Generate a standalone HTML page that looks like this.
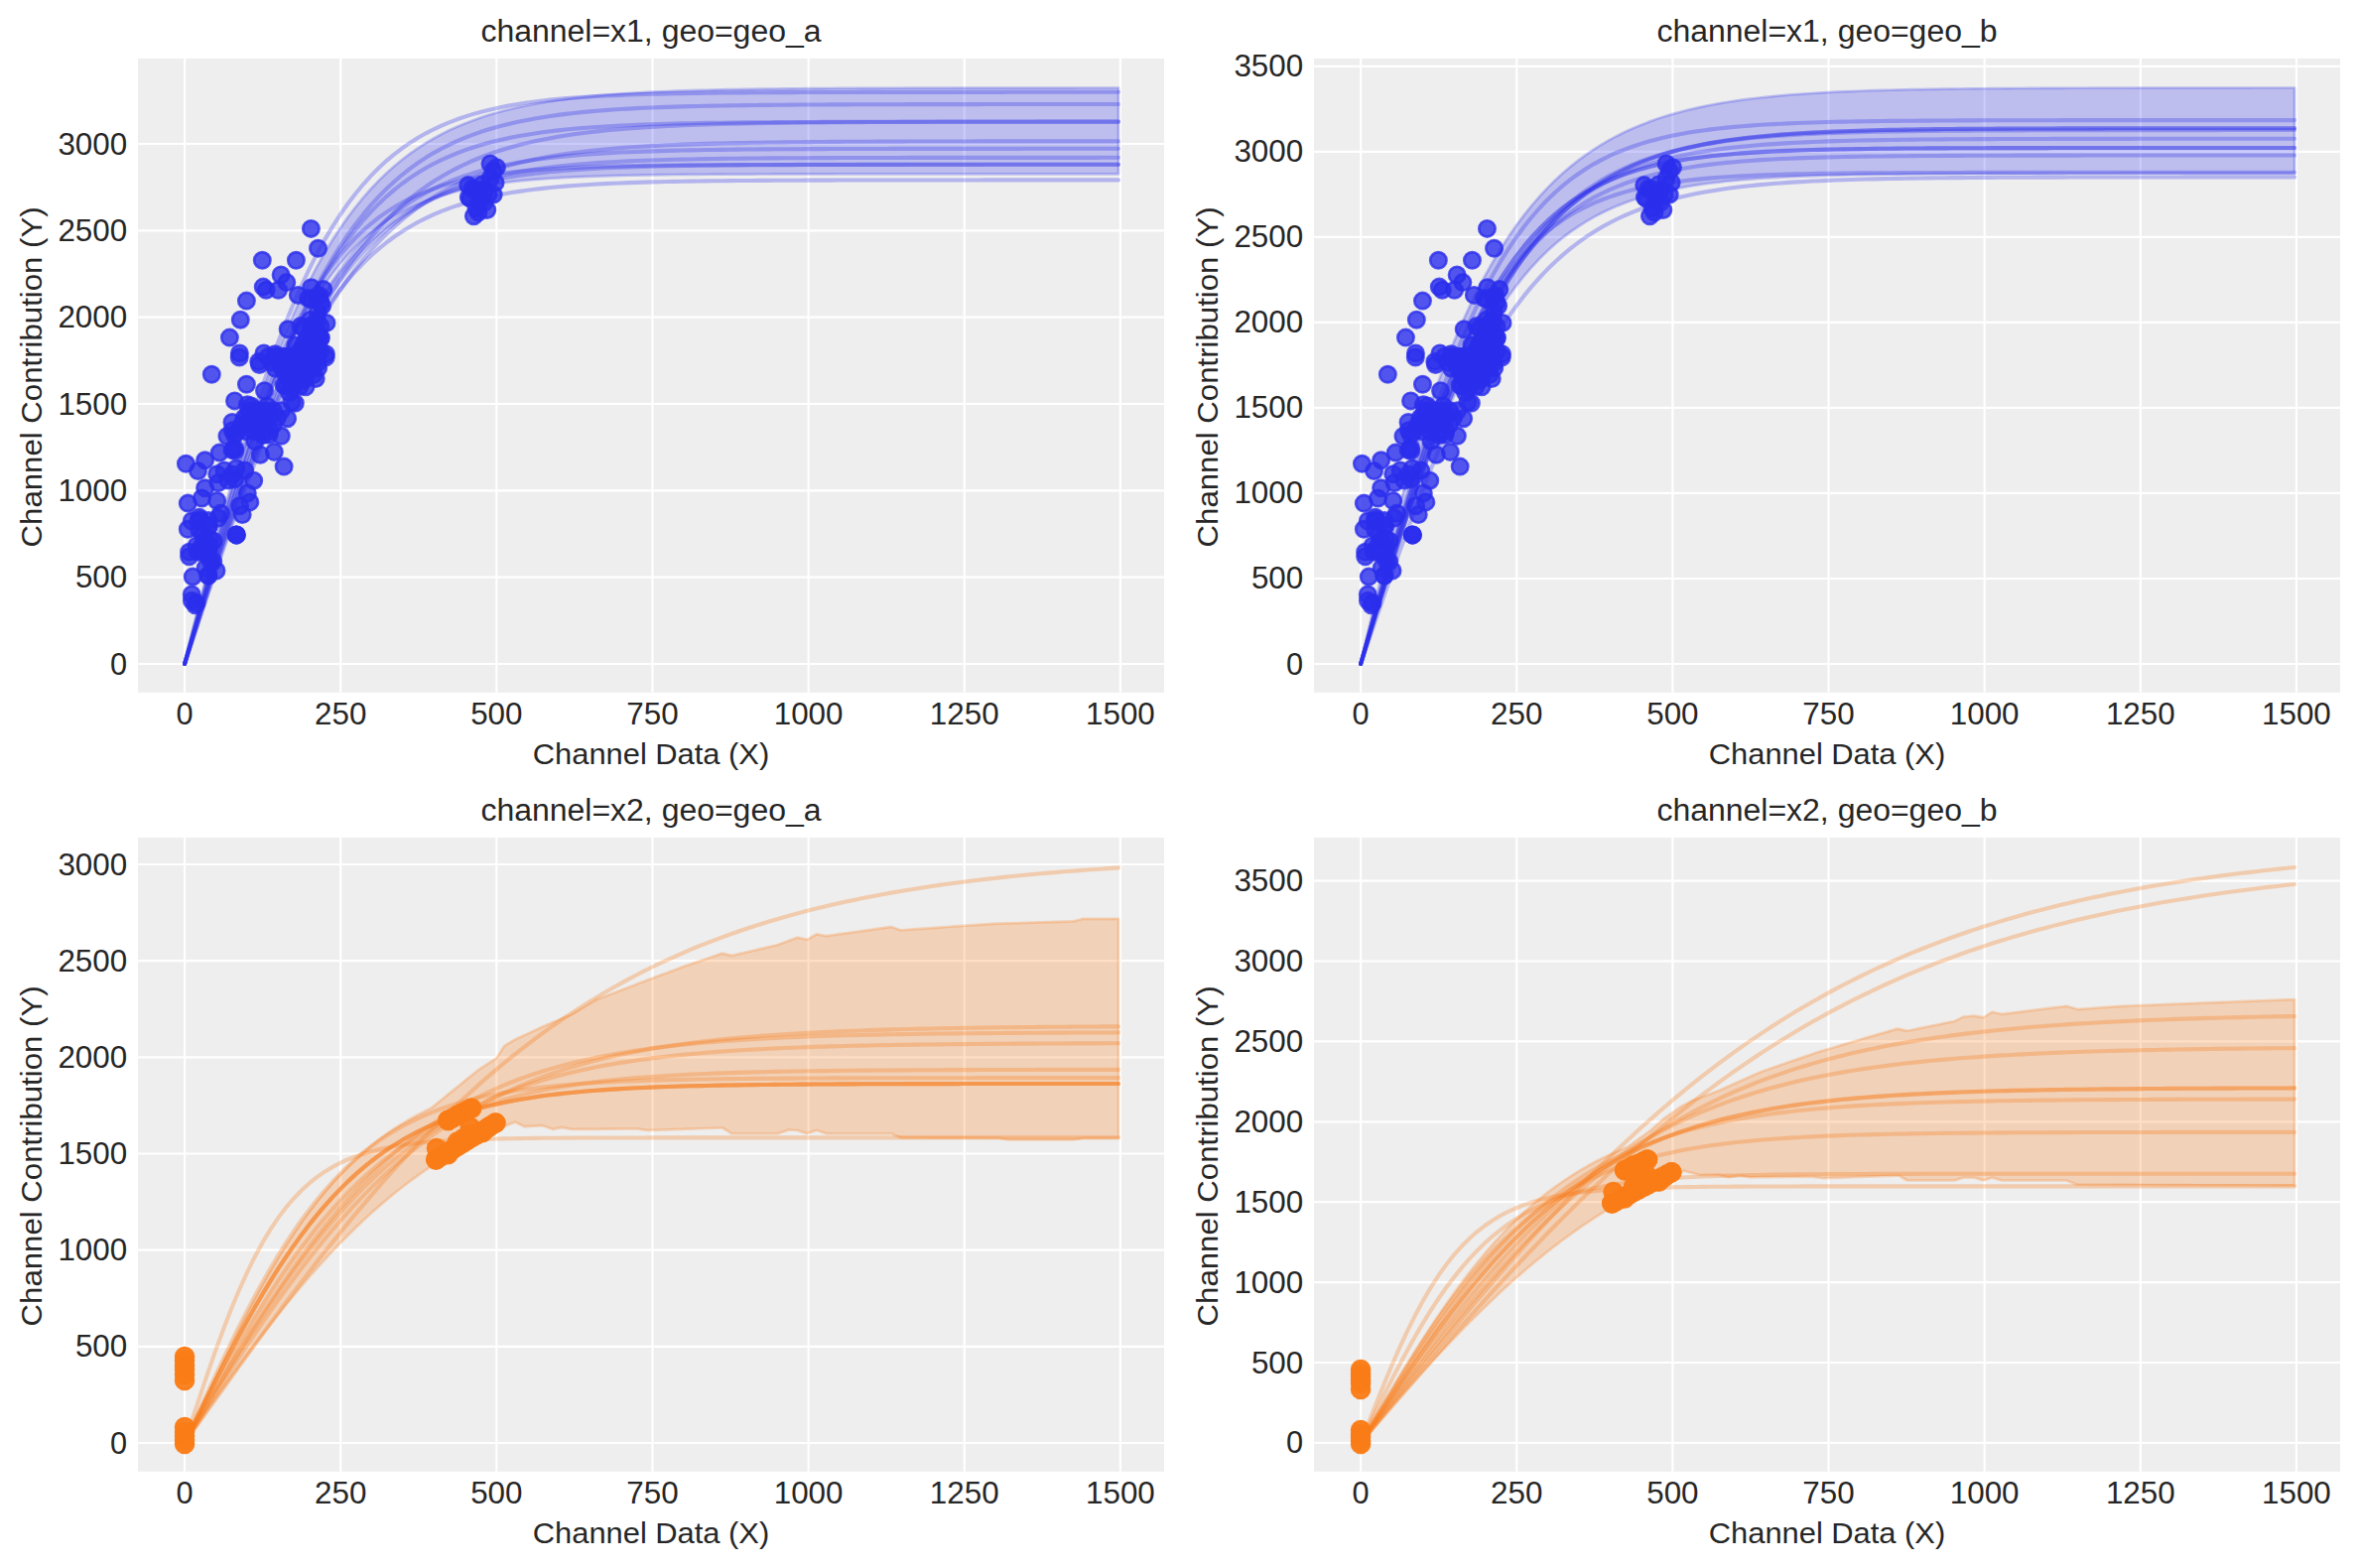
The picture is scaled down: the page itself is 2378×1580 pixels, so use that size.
<!DOCTYPE html><html><head><meta charset="utf-8"><style>html,body{margin:0;padding:0;background:#fff;}svg{display:block;}</style></head><body>
<svg width="2378" height="1580" viewBox="0 0 2378 1580" style="font-family:'Liberation Sans',sans-serif">
<rect width="2378" height="1580" fill="#ffffff"/>
<defs>
<clipPath id="c1"><rect x="139.0" y="59.0" width="1034.00" height="638.80"/></clipPath>
<clipPath id="c2"><rect x="1324.0" y="59.0" width="1034.00" height="638.80"/></clipPath>
<clipPath id="c3"><rect x="139.0" y="844.1" width="1034.00" height="638.70"/></clipPath>
<clipPath id="c4"><rect x="1324.0" y="844.1" width="1034.00" height="638.70"/></clipPath>
</defs>
<g id="ax1">
<rect x="139.0" y="59.0" width="1034.00" height="638.80" fill="#eeeeee"/>
<path d="M186.05 59.0V697.8M343.19 59.0V697.8M500.33 59.0V697.8M657.48 59.0V697.8M814.62 59.0V697.8M971.76 59.0V697.8M1128.90 59.0V697.8M139.0 669.00H1173.0M139.0 581.67H1173.0M139.0 494.33H1173.0M139.0 407.00H1173.0M139.0 319.67H1173.0M139.0 232.33H1173.0M139.0 145.00H1173.0" stroke="#ffffff" stroke-width="2.2" fill="none"/>
<g clip-path="url(#c1)">
<path d="M186.05,669.00 L193.89,638.07 L201.73,607.64 L209.57,577.87 L217.42,548.86 L225.26,520.74 L233.10,493.57 L240.94,467.44 L248.78,442.41 L256.62,418.51 L264.46,395.76 L272.31,374.18 L280.15,353.78 L287.99,334.53 L295.83,316.42 L303.67,299.42 L311.51,283.49 L319.35,268.61 L327.19,254.73 L335.04,241.79 L342.88,229.76 L350.72,218.60 L358.56,208.24 L366.40,198.64 L374.24,189.76 L382.08,181.56 L389.93,173.98 L397.77,166.99 L405.61,160.54 L413.45,154.60 L421.29,149.14 L429.13,144.10 L436.97,139.48 L444.82,135.22 L452.66,131.31 L460.50,127.72 L468.34,124.43 L476.18,121.40 L484.02,118.63 L491.86,116.08 L499.70,113.75 L507.55,111.61 L515.39,109.65 L523.23,107.85 L531.07,106.21 L538.91,104.70 L546.75,103.32 L554.59,102.05 L562.44,100.89 L570.28,99.83 L578.12,98.86 L585.96,97.98 L593.80,97.16 L601.64,96.42 L609.48,95.74 L617.33,95.12 L625.17,94.55 L633.01,94.03 L640.85,93.55 L648.69,93.12 L656.53,92.72 L664.37,92.35 L672.21,92.02 L680.06,91.72 L687.90,91.44 L695.74,91.18 L703.58,90.95 L711.42,90.74 L719.26,90.54 L727.10,90.37 L734.95,90.21 L742.79,90.06 L750.63,89.92 L758.47,89.80 L766.31,89.68 L774.15,89.58 L781.99,89.49 L789.84,89.40 L797.68,89.32 L805.52,89.25 L813.36,89.18 L821.20,89.12 L829.04,89.07 L836.88,89.02 L844.73,88.97 L852.57,88.93 L860.41,88.89 L868.25,88.86 L876.09,88.83 L883.93,88.80 L891.77,88.77 L899.61,88.75 L907.46,88.73 L915.30,88.71 L923.14,88.69 L930.98,88.67 L938.82,88.66 L946.66,88.64 L954.50,88.63 L962.35,88.62 L970.19,88.61 L978.03,88.60 L985.87,88.59 L993.71,88.58 L1001.55,88.57 L1009.39,88.57 L1017.24,88.56 L1025.08,88.55 L1032.92,88.55 L1040.76,88.54 L1048.60,88.54 L1056.44,88.54 L1064.28,88.53 L1072.12,88.53 L1079.97,88.53 L1087.81,88.52 L1095.65,88.52 L1103.49,88.52 L1111.33,88.52 L1119.17,88.51 L1127.01,88.51 L1127.01,175.31 L1119.17,175.31 L1111.33,175.31 L1103.49,175.31 L1095.65,175.31 L1087.81,175.31 L1079.97,175.31 L1072.12,175.31 L1064.28,175.31 L1056.44,175.31 L1048.60,175.31 L1040.76,175.31 L1032.92,175.31 L1025.08,175.31 L1017.24,175.31 L1009.39,175.31 L1001.55,175.31 L993.71,175.31 L985.87,175.31 L978.03,175.31 L970.19,175.31 L962.35,175.32 L954.50,175.32 L946.66,175.32 L938.82,175.32 L930.98,175.32 L923.14,175.33 L915.30,175.33 L907.46,175.33 L899.61,175.33 L891.77,175.34 L883.93,175.34 L876.09,175.35 L868.25,175.35 L860.41,175.36 L852.57,175.36 L844.73,175.37 L836.88,175.38 L829.04,175.39 L821.20,175.40 L813.36,175.41 L805.52,175.42 L797.68,175.43 L789.84,175.45 L781.99,175.47 L774.15,175.49 L766.31,175.51 L758.47,175.53 L750.63,175.56 L742.79,175.59 L734.95,175.62 L727.10,175.66 L719.26,175.71 L711.42,175.76 L703.58,175.81 L695.74,175.87 L687.90,175.94 L680.06,176.02 L672.21,176.11 L664.37,176.20 L656.53,176.31 L648.69,176.43 L640.85,176.57 L633.01,176.73 L625.17,176.90 L617.33,177.09 L609.48,177.31 L601.64,177.55 L593.80,177.83 L585.96,178.13 L578.12,178.47 L570.28,178.86 L562.44,179.29 L554.59,179.77 L546.75,180.31 L538.91,180.92 L531.07,181.59 L523.23,182.35 L515.39,183.20 L507.55,184.16 L499.70,185.22 L491.86,186.41 L484.02,187.75 L476.18,189.24 L468.34,190.91 L460.50,192.77 L452.66,194.85 L444.82,197.18 L436.97,199.77 L429.13,202.67 L421.29,205.89 L413.45,209.48 L405.61,213.48 L397.77,217.92 L389.93,222.85 L382.08,228.32 L374.24,234.38 L366.40,241.09 L358.56,248.50 L350.72,256.67 L342.88,265.66 L335.04,275.53 L327.19,286.35 L319.35,298.17 L311.51,311.06 L303.67,325.06 L295.83,340.23 L287.99,356.61 L280.15,374.22 L272.31,393.07 L264.46,413.18 L256.62,434.51 L248.78,457.04 L240.94,480.71 L233.10,505.43 L225.26,531.11 L217.42,557.63 L209.57,584.84 L201.73,612.59 L193.89,640.70 L186.05,669.00Z" fill="#2a2eec" fill-opacity="0.25" stroke="#2a2eec" stroke-opacity="0.25" stroke-width="2.7" stroke-linejoin="round"/>
<polyline points="186.05,669.00 193.89,638.48 201.73,608.13 209.57,578.12 217.42,548.60 225.26,519.74 233.10,491.65 240.94,464.46 248.78,438.28 256.62,413.19 264.46,389.25 272.31,366.50 280.15,344.99 287.99,324.73 295.83,305.71 303.67,287.91 311.51,271.32 319.35,255.91 327.19,241.62 335.04,228.41 342.88,216.23 350.72,205.02 358.56,194.73 366.40,185.30 374.24,176.67 382.08,168.79 389.93,161.60 397.77,155.05 405.61,149.10 413.45,143.68 421.29,138.77 429.13,134.31 436.97,130.27 444.82,126.61 452.66,123.30 460.50,120.31 468.34,117.60 476.18,115.15 484.02,112.95 491.86,110.95 499.70,109.15 507.55,107.53 515.39,106.07 523.23,104.75 531.07,103.56 538.91,102.48 546.75,101.52 554.59,100.65 562.44,99.86 570.28,99.16 578.12,98.52 585.96,97.95 593.80,97.44 601.64,96.97 609.48,96.55 617.33,96.18 625.17,95.84 633.01,95.54 640.85,95.26 648.69,95.02 656.53,94.79 664.37,94.60 672.21,94.42 680.06,94.25 687.90,94.11 695.74,93.98 703.58,93.86 711.42,93.76 719.26,93.66 727.10,93.57 734.95,93.50 742.79,93.43 750.63,93.37 758.47,93.31 766.31,93.26 774.15,93.21 781.99,93.17 789.84,93.14 797.68,93.10 805.52,93.07 813.36,93.05 821.20,93.02 829.04,93.00 836.88,92.98 844.73,92.97 852.57,92.95 860.41,92.94 868.25,92.92 876.09,92.91 883.93,92.90 891.77,92.89 899.61,92.88 907.46,92.88 915.30,92.87 923.14,92.86 930.98,92.86 938.82,92.85 946.66,92.85 954.50,92.84 962.35,92.84 970.19,92.84 978.03,92.84 985.87,92.83 993.71,92.83 1001.55,92.83 1009.39,92.83 1017.24,92.82 1025.08,92.82 1032.92,92.82 1040.76,92.82 1048.60,92.82 1056.44,92.82 1064.28,92.82 1072.12,92.82 1079.97,92.82 1087.81,92.82 1095.65,92.81 1103.49,92.81 1111.33,92.81 1119.17,92.81 1127.01,92.81" fill="none" stroke="#2a2eec" stroke-opacity="0.3" stroke-width="4.1" stroke-linecap="round" stroke-linejoin="round"/>
<polyline points="186.05,669.00 193.89,641.79 201.73,614.71 209.57,587.88 217.42,561.42 225.26,535.44 233.10,510.05 240.94,485.34 248.78,461.40 256.62,438.29 264.46,416.07 272.31,394.80 280.15,374.50 287.99,355.20 295.83,336.90 303.67,319.62 311.51,303.34 319.35,288.05 327.19,273.72 335.04,260.33 342.88,247.85 350.72,236.23 358.56,225.44 366.40,215.44 374.24,206.19 382.08,197.64 389.93,189.76 397.77,182.50 405.61,175.81 413.45,169.67 421.29,164.03 429.13,158.86 436.97,154.12 444.82,149.78 452.66,145.81 460.50,142.18 468.34,138.86 476.18,135.83 484.02,133.06 491.86,130.54 499.70,128.24 507.55,126.14 515.39,124.23 523.23,122.49 531.07,120.91 538.91,119.46 546.75,118.15 554.59,116.95 562.44,115.86 570.28,114.88 578.12,113.98 585.96,113.16 593.80,112.41 601.64,111.74 609.48,111.12 617.33,110.56 625.17,110.05 633.01,109.59 640.85,109.17 648.69,108.79 656.53,108.45 664.37,108.13 672.21,107.85 680.06,107.59 687.90,107.35 695.74,107.14 703.58,106.94 711.42,106.76 719.26,106.60 727.10,106.46 734.95,106.33 742.79,106.21 750.63,106.10 758.47,106.00 766.31,105.91 774.15,105.83 781.99,105.75 789.84,105.68 797.68,105.62 805.52,105.57 813.36,105.52 821.20,105.47 829.04,105.43 836.88,105.39 844.73,105.36 852.57,105.33 860.41,105.30 868.25,105.27 876.09,105.25 883.93,105.23 891.77,105.21 899.61,105.19 907.46,105.18 915.30,105.16 923.14,105.15 930.98,105.14 938.82,105.13 946.66,105.12 954.50,105.11 962.35,105.10 970.19,105.09 978.03,105.08 985.87,105.08 993.71,105.07 1001.55,105.07 1009.39,105.06 1017.24,105.06 1025.08,105.06 1032.92,105.05 1040.76,105.05 1048.60,105.05 1056.44,105.04 1064.28,105.04 1072.12,105.04 1079.97,105.04 1087.81,105.04 1095.65,105.03 1103.49,105.03 1111.33,105.03 1119.17,105.03 1127.01,105.03" fill="none" stroke="#2a2eec" stroke-opacity="0.3" stroke-width="4.1" stroke-linecap="round" stroke-linejoin="round"/>
<polyline points="186.05,669.00 193.89,641.62 201.73,614.38 209.57,587.41 217.42,560.84 225.26,534.79 233.10,509.38 240.94,484.70 248.78,460.84 256.62,437.87 264.46,415.86 272.31,394.85 280.15,374.86 287.99,355.93 295.83,338.05 303.67,321.23 311.51,305.45 319.35,290.68 327.19,276.91 335.04,264.09 342.88,252.19 350.72,241.16 358.56,230.97 366.40,221.56 374.24,212.90 382.08,204.93 389.93,197.62 397.77,190.91 405.61,184.76 413.45,179.13 421.29,173.99 429.13,169.30 436.97,165.02 444.82,161.11 452.66,157.55 460.50,154.32 468.34,151.37 476.18,148.69 484.02,146.25 491.86,144.04 499.70,142.03 507.55,140.21 515.39,138.55 523.23,137.05 531.07,135.69 538.91,134.46 546.75,133.34 554.59,132.32 562.44,131.40 570.28,130.57 578.12,129.81 585.96,129.13 593.80,128.51 601.64,127.95 609.48,127.44 617.33,126.98 625.17,126.57 633.01,126.19 640.85,125.85 648.69,125.54 656.53,125.26 664.37,125.01 672.21,124.78 680.06,124.57 687.90,124.39 695.74,124.22 703.58,124.06 711.42,123.92 719.26,123.80 727.10,123.69 734.95,123.58 742.79,123.49 750.63,123.41 758.47,123.33 766.31,123.26 774.15,123.20 781.99,123.14 789.84,123.09 797.68,123.04 805.52,123.00 813.36,122.97 821.20,122.93 829.04,122.90 836.88,122.87 844.73,122.85 852.57,122.82 860.41,122.80 868.25,122.79 876.09,122.77 883.93,122.75 891.77,122.74 899.61,122.73 907.46,122.72 915.30,122.70 923.14,122.70 930.98,122.69 938.82,122.68 946.66,122.67 954.50,122.67 962.35,122.66 970.19,122.66 978.03,122.65 985.87,122.65 993.71,122.64 1001.55,122.64 1009.39,122.64 1017.24,122.63 1025.08,122.63 1032.92,122.63 1040.76,122.63 1048.60,122.63 1056.44,122.62 1064.28,122.62 1072.12,122.62 1079.97,122.62 1087.81,122.62 1095.65,122.62 1103.49,122.62 1111.33,122.62 1119.17,122.61 1127.01,122.61" fill="none" stroke="#2a2eec" stroke-opacity="0.3" stroke-width="4.1" stroke-linecap="round" stroke-linejoin="round"/>
<polyline points="186.05,669.00 193.89,644.75 201.73,620.60 209.57,596.63 217.42,572.94 225.26,549.63 233.10,526.76 240.94,504.41 248.78,482.65 256.62,461.54 264.46,441.13 272.31,421.46 280.15,402.57 287.99,384.48 295.83,367.20 303.67,350.75 311.51,335.13 319.35,320.34 327.19,306.36 335.04,293.18 342.88,280.78 350.72,269.14 358.56,258.23 366.40,248.03 374.24,238.50 382.08,229.61 389.93,221.34 397.77,213.65 405.61,206.50 413.45,199.88 421.29,193.74 429.13,188.05 436.97,182.80 444.82,177.94 452.66,173.46 460.50,169.32 468.34,165.51 476.18,161.99 484.02,158.76 491.86,155.78 499.70,153.04 507.55,150.52 515.39,148.20 523.23,146.07 531.07,144.12 538.91,142.32 546.75,140.67 554.59,139.16 562.44,137.77 570.28,136.50 578.12,135.33 585.96,134.26 593.80,133.28 601.64,132.38 609.48,131.56 617.33,130.80 625.17,130.11 633.01,129.48 640.85,128.90 648.69,128.37 656.53,127.88 664.37,127.43 672.21,127.02 680.06,126.65 687.90,126.31 695.74,125.99 703.58,125.71 711.42,125.44 719.26,125.20 727.10,124.98 734.95,124.78 742.79,124.60 750.63,124.43 758.47,124.27 766.31,124.13 774.15,124.00 781.99,123.89 789.84,123.78 797.68,123.68 805.52,123.59 813.36,123.50 821.20,123.43 829.04,123.36 836.88,123.29 844.73,123.24 852.57,123.18 860.41,123.13 868.25,123.09 876.09,123.05 883.93,123.01 891.77,122.98 899.61,122.95 907.46,122.92 915.30,122.89 923.14,122.87 930.98,122.84 938.82,122.82 946.66,122.81 954.50,122.79 962.35,122.77 970.19,122.76 978.03,122.75 985.87,122.73 993.71,122.72 1001.55,122.71 1009.39,122.71 1017.24,122.70 1025.08,122.69 1032.92,122.68 1040.76,122.68 1048.60,122.67 1056.44,122.66 1064.28,122.66 1072.12,122.66 1079.97,122.65 1087.81,122.65 1095.65,122.64 1103.49,122.64 1111.33,122.64 1119.17,122.64 1127.01,122.63" fill="none" stroke="#2a2eec" stroke-opacity="0.3" stroke-width="4.1" stroke-linecap="round" stroke-linejoin="round"/>
<polyline points="186.05,669.00 193.89,645.36 201.73,621.82 209.57,598.47 217.42,575.39 225.26,552.68 233.10,530.42 240.94,508.67 248.78,487.51 256.62,467.00 264.46,447.18 272.31,428.10 280.15,409.78 287.99,392.25 295.83,375.54 303.67,359.64 311.51,344.55 319.35,330.28 327.19,316.80 335.04,304.12 342.88,292.20 350.72,281.02 358.56,270.55 366.40,260.77 374.24,251.65 382.08,243.16 389.93,235.26 397.77,227.92 405.61,221.12 413.45,214.82 421.29,208.98 429.13,203.59 436.97,198.60 444.82,194.01 452.66,189.77 460.50,185.86 468.34,182.26 476.18,178.95 484.02,175.90 491.86,173.10 499.70,170.52 507.55,168.16 515.39,165.99 523.23,164.00 531.07,162.17 538.91,160.49 546.75,158.96 554.59,157.55 562.44,156.25 570.28,155.07 578.12,153.99 585.96,152.99 593.80,152.08 601.64,151.25 609.48,150.49 617.33,149.79 625.17,149.15 633.01,148.57 640.85,148.03 648.69,147.55 656.53,147.10 664.37,146.69 672.21,146.31 680.06,145.97 687.90,145.66 695.74,145.37 703.58,145.11 711.42,144.87 719.26,144.65 727.10,144.45 734.95,144.27 742.79,144.10 750.63,143.94 758.47,143.80 766.31,143.68 774.15,143.56 781.99,143.45 789.84,143.35 797.68,143.26 805.52,143.18 813.36,143.11 821.20,143.04 829.04,142.98 836.88,142.92 844.73,142.87 852.57,142.82 860.41,142.78 868.25,142.74 876.09,142.70 883.93,142.67 891.77,142.63 899.61,142.61 907.46,142.58 915.30,142.56 923.14,142.54 930.98,142.52 938.82,142.50 946.66,142.48 954.50,142.47 962.35,142.45 970.19,142.44 978.03,142.43 985.87,142.42 993.71,142.41 1001.55,142.40 1009.39,142.39 1017.24,142.39 1025.08,142.38 1032.92,142.37 1040.76,142.37 1048.60,142.36 1056.44,142.36 1064.28,142.36 1072.12,142.35 1079.97,142.35 1087.81,142.34 1095.65,142.34 1103.49,142.34 1111.33,142.34 1119.17,142.33 1127.01,142.33" fill="none" stroke="#2a2eec" stroke-opacity="0.3" stroke-width="4.1" stroke-linecap="round" stroke-linejoin="round"/>
<polyline points="186.05,669.00 193.89,642.98 201.73,617.10 209.57,591.47 217.42,566.23 225.26,541.47 233.10,517.33 240.94,493.87 248.78,471.20 256.62,449.38 264.46,428.46 272.31,408.49 280.15,389.50 287.99,371.51 295.83,354.53 303.67,338.54 311.51,323.54 319.35,309.51 327.19,296.42 335.04,284.24 342.88,272.93 350.72,262.46 358.56,252.77 366.40,243.84 374.24,235.60 382.08,228.03 389.93,221.08 397.77,214.70 405.61,208.86 413.45,203.52 421.29,198.63 429.13,194.17 436.97,190.10 444.82,186.39 452.66,183.01 460.50,179.93 468.34,177.13 476.18,174.59 484.02,172.27 491.86,170.17 499.70,168.26 507.55,166.53 515.39,164.96 523.23,163.53 531.07,162.23 538.91,161.06 546.75,160.00 554.59,159.03 562.44,158.16 570.28,157.37 578.12,156.65 585.96,156.00 593.80,155.41 601.64,154.88 609.48,154.40 617.33,153.96 625.17,153.57 633.01,153.21 640.85,152.88 648.69,152.59 656.53,152.33 664.37,152.09 672.21,151.87 680.06,151.67 687.90,151.49 695.74,151.33 703.58,151.19 711.42,151.05 719.26,150.94 727.10,150.83 734.95,150.73 742.79,150.64 750.63,150.56 758.47,150.49 766.31,150.42 774.15,150.36 781.99,150.31 789.84,150.26 797.68,150.22 805.52,150.18 813.36,150.14 821.20,150.11 829.04,150.08 836.88,150.06 844.73,150.03 852.57,150.01 860.41,149.99 868.25,149.97 876.09,149.96 883.93,149.94 891.77,149.93 899.61,149.92 907.46,149.91 915.30,149.90 923.14,149.89 930.98,149.88 938.82,149.87 946.66,149.87 954.50,149.86 962.35,149.85 970.19,149.85 978.03,149.84 985.87,149.84 993.71,149.84 1001.55,149.83 1009.39,149.83 1017.24,149.83 1025.08,149.83 1032.92,149.82 1040.76,149.82 1048.60,149.82 1056.44,149.82 1064.28,149.82 1072.12,149.82 1079.97,149.81 1087.81,149.81 1095.65,149.81 1103.49,149.81 1111.33,149.81 1119.17,149.81 1127.01,149.81" fill="none" stroke="#2a2eec" stroke-opacity="0.3" stroke-width="4.1" stroke-linecap="round" stroke-linejoin="round"/>
<polyline points="186.05,669.00 193.89,643.75 201.73,618.63 209.57,593.75 217.42,569.23 225.26,545.18 233.10,521.71 240.94,498.89 248.78,476.81 256.62,455.55 264.46,435.14 272.31,415.64 280.15,397.08 287.99,379.47 295.83,362.82 303.67,347.13 311.51,332.39 319.35,318.59 327.19,305.69 335.04,293.67 342.88,282.49 350.72,272.13 358.56,262.53 366.40,253.66 374.24,245.47 382.08,237.93 389.93,231.00 397.77,224.63 405.61,218.79 413.45,213.44 421.29,208.54 429.13,204.06 436.97,199.96 444.82,196.22 452.66,192.81 460.50,189.70 468.34,186.87 476.18,184.29 484.02,181.94 491.86,179.81 499.70,177.87 507.55,176.10 515.39,174.49 523.23,173.04 531.07,171.71 538.91,170.51 546.75,169.42 554.59,168.43 562.44,167.53 570.28,166.71 578.12,165.97 585.96,165.30 593.80,164.70 601.64,164.14 609.48,163.64 617.33,163.19 625.17,162.78 633.01,162.41 640.85,162.07 648.69,161.76 656.53,161.49 664.37,161.24 672.21,161.01 680.06,160.80 687.90,160.61 695.74,160.45 703.58,160.29 711.42,160.15 719.26,160.03 727.10,159.91 734.95,159.81 742.79,159.72 750.63,159.63 758.47,159.55 766.31,159.48 774.15,159.42 781.99,159.36 789.84,159.31 797.68,159.27 805.52,159.22 813.36,159.19 821.20,159.15 829.04,159.12 836.88,159.09 844.73,159.06 852.57,159.04 860.41,159.02 868.25,159.00 876.09,158.98 883.93,158.97 891.77,158.95 899.61,158.94 907.46,158.93 915.30,158.92 923.14,158.91 930.98,158.90 938.82,158.89 946.66,158.88 954.50,158.88 962.35,158.87 970.19,158.87 978.03,158.86 985.87,158.86 993.71,158.85 1001.55,158.85 1009.39,158.85 1017.24,158.84 1025.08,158.84 1032.92,158.84 1040.76,158.84 1048.60,158.84 1056.44,158.83 1064.28,158.83 1072.12,158.83 1079.97,158.83 1087.81,158.83 1095.65,158.83 1103.49,158.83 1111.33,158.82 1119.17,158.82 1127.01,158.82" fill="none" stroke="#2a2eec" stroke-opacity="0.3" stroke-width="4.1" stroke-linecap="round" stroke-linejoin="round"/>
<polyline points="186.05,669.00 193.89,639.97 201.73,611.13 209.57,582.67 217.42,554.77 225.26,527.59 233.10,501.28 240.94,475.96 248.78,451.73 256.62,428.69 264.46,406.88 272.31,386.34 280.15,367.09 287.99,349.13 295.83,332.44 303.67,317.00 311.51,302.75 319.35,289.64 327.19,277.64 335.04,266.66 342.88,256.65 350.72,247.54 358.56,239.28 366.40,231.79 374.24,225.01 382.08,218.89 389.93,213.37 397.77,208.40 405.61,203.93 413.45,199.91 421.29,196.30 429.13,193.07 436.97,190.16 444.82,187.56 452.66,185.24 460.50,183.15 468.34,181.29 476.18,179.62 484.02,178.13 491.86,176.80 499.70,175.61 507.55,174.55 515.39,173.61 523.23,172.76 531.07,172.01 538.91,171.33 546.75,170.73 554.59,170.20 562.44,169.72 570.28,169.29 578.12,168.91 585.96,168.58 593.80,168.27 601.64,168.01 609.48,167.77 617.33,167.55 625.17,167.36 633.01,167.19 640.85,167.04 648.69,166.91 656.53,166.79 664.37,166.68 672.21,166.58 680.06,166.50 687.90,166.42 695.74,166.35 703.58,166.29 711.42,166.24 719.26,166.19 727.10,166.15 734.95,166.11 742.79,166.08 750.63,166.05 758.47,166.02 766.31,166.00 774.15,165.98 781.99,165.96 789.84,165.94 797.68,165.93 805.52,165.91 813.36,165.90 821.20,165.89 829.04,165.88 836.88,165.87 844.73,165.86 852.57,165.86 860.41,165.85 868.25,165.85 876.09,165.84 883.93,165.84 891.77,165.83 899.61,165.83 907.46,165.83 915.30,165.82 923.14,165.82 930.98,165.82 938.82,165.82 946.66,165.82 954.50,165.81 962.35,165.81 970.19,165.81 978.03,165.81 985.87,165.81 993.71,165.81 1001.55,165.81 1009.39,165.81 1017.24,165.81 1025.08,165.81 1032.92,165.81 1040.76,165.81 1048.60,165.81 1056.44,165.81 1064.28,165.81 1072.12,165.80 1079.97,165.80 1087.81,165.80 1095.65,165.80 1103.49,165.80 1111.33,165.80 1119.17,165.80 1127.01,165.80" fill="none" stroke="#2a2eec" stroke-opacity="0.3" stroke-width="4.1" stroke-linecap="round" stroke-linejoin="round"/>
<polyline points="186.05,669.00 193.89,642.66 201.73,616.46 209.57,590.55 217.42,565.06 225.26,540.11 233.10,515.82 240.94,492.30 248.78,469.62 256.62,447.87 264.46,427.09 272.31,407.34 280.15,388.63 287.99,370.98 295.83,354.39 303.67,338.86 311.51,324.35 319.35,310.85 327.19,298.32 335.04,286.72 342.88,276.01 350.72,266.14 358.56,257.06 366.40,248.73 374.24,241.10 382.08,234.11 389.93,227.74 397.77,221.92 405.61,216.62 413.45,211.79 421.29,207.41 429.13,203.42 436.97,199.81 444.82,196.53 452.66,193.55 460.50,190.86 468.34,188.43 476.18,186.22 484.02,184.23 491.86,182.42 499.70,180.79 507.55,179.32 515.39,177.99 523.23,176.79 531.07,175.71 538.91,174.74 546.75,173.85 554.59,173.06 562.44,172.34 570.28,171.69 578.12,171.11 585.96,170.59 593.80,170.11 601.64,169.68 609.48,169.30 617.33,168.95 625.17,168.64 633.01,168.36 640.85,168.11 648.69,167.88 656.53,167.67 664.37,167.49 672.21,167.32 680.06,167.17 687.90,167.03 695.74,166.91 703.58,166.80 711.42,166.70 719.26,166.61 727.10,166.53 734.95,166.46 742.79,166.39 750.63,166.33 758.47,166.28 766.31,166.23 774.15,166.19 781.99,166.15 789.84,166.12 797.68,166.09 805.52,166.06 813.36,166.03 821.20,166.01 829.04,165.99 836.88,165.97 844.73,165.95 852.57,165.94 860.41,165.93 868.25,165.91 876.09,165.90 883.93,165.89 891.77,165.88 899.61,165.88 907.46,165.87 915.30,165.86 923.14,165.86 930.98,165.85 938.82,165.85 946.66,165.84 954.50,165.84 962.35,165.83 970.19,165.83 978.03,165.83 985.87,165.83 993.71,165.82 1001.55,165.82 1009.39,165.82 1017.24,165.82 1025.08,165.82 1032.92,165.82 1040.76,165.81 1048.60,165.81 1056.44,165.81 1064.28,165.81 1072.12,165.81 1079.97,165.81 1087.81,165.81 1095.65,165.81 1103.49,165.81 1111.33,165.81 1119.17,165.81 1127.01,165.81" fill="none" stroke="#2a2eec" stroke-opacity="0.3" stroke-width="4.1" stroke-linecap="round" stroke-linejoin="round"/>
<polyline points="186.05,669.00 193.89,643.90 201.73,618.93 209.57,594.23 217.42,569.91 225.26,546.10 233.10,522.89 240.94,500.39 248.78,478.68 256.62,457.82 264.46,437.88 272.31,418.88 280.15,400.86 287.99,383.83 295.83,367.80 303.67,352.76 311.51,338.69 319.35,325.56 327.19,313.36 335.04,302.04 342.88,291.56 350.72,281.88 358.56,272.97 366.40,264.77 374.24,257.24 382.08,250.34 389.93,244.02 397.77,238.25 405.61,232.98 413.45,228.17 421.29,223.79 429.13,219.80 436.97,216.18 444.82,212.88 452.66,209.89 460.50,207.17 468.34,204.71 476.18,202.48 484.02,200.45 491.86,198.62 499.70,196.96 507.55,195.46 515.39,194.10 523.23,192.87 531.07,191.76 538.91,190.76 546.75,189.85 554.59,189.03 562.44,188.29 570.28,187.62 578.12,187.01 585.96,186.46 593.80,185.97 601.64,185.53 609.48,185.12 617.33,184.76 625.17,184.43 633.01,184.14 640.85,183.87 648.69,183.63 656.53,183.41 664.37,183.21 672.21,183.04 680.06,182.88 687.90,182.73 695.74,182.60 703.58,182.48 711.42,182.38 719.26,182.28 727.10,182.20 734.95,182.12 742.79,182.05 750.63,181.98 758.47,181.93 766.31,181.88 774.15,181.83 781.99,181.79 789.84,181.75 797.68,181.72 805.52,181.68 813.36,181.66 821.20,181.63 829.04,181.61 836.88,181.59 844.73,181.57 852.57,181.55 860.41,181.54 868.25,181.53 876.09,181.51 883.93,181.50 891.77,181.49 899.61,181.48 907.46,181.47 915.30,181.47 923.14,181.46 930.98,181.46 938.82,181.45 946.66,181.45 954.50,181.44 962.35,181.44 970.19,181.43 978.03,181.43 985.87,181.43 993.71,181.42 1001.55,181.42 1009.39,181.42 1017.24,181.42 1025.08,181.42 1032.92,181.41 1040.76,181.41 1048.60,181.41 1056.44,181.41 1064.28,181.41 1072.12,181.41 1079.97,181.41 1087.81,181.41 1095.65,181.41 1103.49,181.41 1111.33,181.41 1119.17,181.41 1127.01,181.40" fill="none" stroke="#2a2eec" stroke-opacity="0.3" stroke-width="4.1" stroke-linecap="round" stroke-linejoin="round"/>
<g fill="#2a2eec" fill-opacity="0.8" stroke="#2a2eec" stroke-opacity="0.8" stroke-width="2.6"><circle cx="313.40" cy="230.40" r="8.2"/><circle cx="320.50" cy="250.30" r="8.2"/><circle cx="264.30" cy="262.30" r="8.2"/><circle cx="298.40" cy="262.30" r="8.2"/><circle cx="283.10" cy="277.00" r="8.2"/><circle cx="288.80" cy="284.60" r="8.2"/><circle cx="265.20" cy="289.10" r="8.2"/><circle cx="268.20" cy="292.30" r="8.2"/><circle cx="280.50" cy="292.30" r="8.2"/><circle cx="248.40" cy="303.10" r="8.2"/><circle cx="300.30" cy="297.40" r="8.2"/><circle cx="313.70" cy="289.70" r="8.2"/><circle cx="325.80" cy="291.60" r="8.2"/><circle cx="310.50" cy="300.60" r="8.2"/><circle cx="322.00" cy="298.00" r="8.2"/><circle cx="324.50" cy="308.20" r="8.2"/><circle cx="242.30" cy="322.20" r="8.2"/><circle cx="329.00" cy="325.40" r="8.2"/><circle cx="231.40" cy="340.10" r="8.2"/><circle cx="290.10" cy="331.80" r="8.2"/><circle cx="313.10" cy="322.20" r="8.2"/><circle cx="302.90" cy="328.60" r="8.2"/><circle cx="323.30" cy="340.10" r="8.2"/><circle cx="241.40" cy="356.00" r="8.2"/><circle cx="328.40" cy="356.70" r="8.2"/><circle cx="265.90" cy="356.00" r="8.2"/><circle cx="277.30" cy="356.70" r="8.2"/><circle cx="261.40" cy="367.50" r="8.2"/><circle cx="320.70" cy="370.70" r="8.2"/><circle cx="318.20" cy="381.60" r="8.2"/><circle cx="213.30" cy="377.30" r="8.2"/><circle cx="248.40" cy="387.30" r="8.2"/><circle cx="266.50" cy="393.70" r="8.2"/><circle cx="236.50" cy="403.90" r="8.2"/><circle cx="294.00" cy="405.20" r="8.2"/><circle cx="308.00" cy="389.80" r="8.2"/><circle cx="313.80" cy="301.90" r="8.2"/><circle cx="320.20" cy="314.60" r="8.2"/><circle cx="313.80" cy="327.40" r="8.2"/><circle cx="305.50" cy="330.60" r="8.2"/><circle cx="320.20" cy="340.20" r="8.2"/><circle cx="297.80" cy="347.80" r="8.2"/><circle cx="313.80" cy="349.70" r="8.2"/><circle cx="288.30" cy="359.30" r="8.2"/><circle cx="304.20" cy="359.30" r="8.2"/><circle cx="320.20" cy="365.70" r="8.2"/><circle cx="260.80" cy="364.40" r="8.2"/><circle cx="241.20" cy="360.00" r="8.2"/><circle cx="328.20" cy="360.00" r="8.2"/><circle cx="286.10" cy="388.10" r="8.2"/><circle cx="253.10" cy="409.10" r="8.2"/><circle cx="269.30" cy="409.10" r="8.2"/><circle cx="297.30" cy="406.30" r="8.2"/><circle cx="289.60" cy="421.70" r="8.2"/><circle cx="246.10" cy="421.00" r="8.2"/><circle cx="234.20" cy="433.70" r="8.2"/><circle cx="283.30" cy="439.30" r="8.2"/><circle cx="265.10" cy="438.60" r="8.2"/><circle cx="276.30" cy="455.40" r="8.2"/><circle cx="262.30" cy="458.20" r="8.2"/><circle cx="286.10" cy="470.10" r="8.2"/><circle cx="236.30" cy="451.20" r="8.2"/><circle cx="249.30" cy="407.70" r="8.2"/><circle cx="249.30" cy="417.90" r="8.2"/><circle cx="234.00" cy="425.50" r="8.2"/><circle cx="228.90" cy="439.50" r="8.2"/><circle cx="236.50" cy="438.30" r="8.2"/><circle cx="271.00" cy="438.30" r="8.2"/><circle cx="256.90" cy="444.60" r="8.2"/><circle cx="221.20" cy="456.10" r="8.2"/><circle cx="234.00" cy="453.60" r="8.2"/><circle cx="187.40" cy="467.30" r="8.2"/><circle cx="206.60" cy="463.80" r="8.2"/><circle cx="199.50" cy="474.60" r="8.2"/><circle cx="218.70" cy="477.80" r="8.2"/><circle cx="236.50" cy="482.90" r="8.2"/><circle cx="246.70" cy="474.00" r="8.2"/><circle cx="255.70" cy="484.20" r="8.2"/><circle cx="206.60" cy="491.80" r="8.2"/><circle cx="203.40" cy="502.00" r="8.2"/><circle cx="189.30" cy="507.10" r="8.2"/><circle cx="218.70" cy="504.60" r="8.2"/><circle cx="249.30" cy="496.90" r="8.2"/><circle cx="251.80" cy="505.90" r="8.2"/><circle cx="241.60" cy="509.70" r="8.2"/><circle cx="222.50" cy="517.30" r="8.2"/><circle cx="244.20" cy="518.60" r="8.2"/><circle cx="200.80" cy="521.20" r="8.2"/><circle cx="193.20" cy="525.00" r="8.2"/><circle cx="189.30" cy="533.30" r="8.2"/><circle cx="200.80" cy="533.90" r="8.2"/><circle cx="211.00" cy="542.90" r="8.2"/><circle cx="238.40" cy="539.00" r="8.2"/><circle cx="190.60" cy="556.30" r="8.2"/><circle cx="199.50" cy="556.30" r="8.2"/><circle cx="214.80" cy="565.80" r="8.2"/><circle cx="207.20" cy="572.20" r="8.2"/><circle cx="194.20" cy="581.10" r="8.2"/><circle cx="209.70" cy="579.80" r="8.2"/><circle cx="193.20" cy="599.00" r="8.2"/><circle cx="236.70" cy="454.20" r="8.2"/><circle cx="219.90" cy="486.50" r="8.2"/><circle cx="201.70" cy="523.70" r="8.2"/><circle cx="203.10" cy="555.20" r="8.2"/><circle cx="210.60" cy="530.00" r="8.2"/><circle cx="193.40" cy="605.20" r="8.2"/><circle cx="198.00" cy="607.50" r="8.2"/><circle cx="196.70" cy="609.70" r="8.2"/><circle cx="190.60" cy="560.80" r="8.2"/><circle cx="494.00" cy="164.90" r="8.2"/><circle cx="500.40" cy="168.70" r="8.2"/><circle cx="471.70" cy="186.60" r="8.2"/><circle cx="499.10" cy="184.00" r="8.2"/><circle cx="497.20" cy="196.10" r="8.2"/><circle cx="472.30" cy="198.70" r="8.2"/><circle cx="490.80" cy="211.50" r="8.2"/><circle cx="477.40" cy="217.80" r="8.2"/><circle cx="483.20" cy="203.80" r="8.2"/><circle cx="488.30" cy="191.00" r="8.2"/><circle cx="478.70" cy="191.00" r="8.2"/><circle cx="226.00" cy="474.00" r="8.2"/><circle cx="234.00" cy="478.00" r="8.2"/><circle cx="230.00" cy="484.00" r="8.2"/><circle cx="238.00" cy="472.00" r="8.2"/><circle cx="200.00" cy="525.00" r="8.2"/><circle cx="210.00" cy="530.00" r="8.2"/><circle cx="205.00" cy="540.00" r="8.2"/><circle cx="215.00" cy="545.00" r="8.2"/><circle cx="198.00" cy="550.00" r="8.2"/><circle cx="210.00" cy="556.00" r="8.2"/><circle cx="220.00" cy="522.00" r="8.2"/><circle cx="238.20" cy="538.90" r="8.2"/><circle cx="238.20" cy="538.90" r="8.2"/><circle cx="212.00" cy="565.00" r="8.2"/><circle cx="218.00" cy="575.00" r="8.2"/><circle cx="210.00" cy="580.00" r="8.2"/><circle cx="476.00" cy="190.00" r="8.2"/><circle cx="483.00" cy="196.00" r="8.2"/><circle cx="488.00" cy="204.00" r="8.2"/><circle cx="480.00" cy="210.00" r="8.2"/><circle cx="486.00" cy="186.00" r="8.2"/><circle cx="494.00" cy="180.00" r="8.2"/><circle cx="474.00" cy="200.00" r="8.2"/><circle cx="482.00" cy="214.00" r="8.2"/><circle cx="492.00" cy="196.00" r="8.2"/><circle cx="497.00" cy="172.00" r="8.2"/><circle cx="319.50" cy="298.62" r="8.2"/><circle cx="323.00" cy="304.69" r="8.2"/><circle cx="319.50" cy="322.87" r="8.2"/><circle cx="316.00" cy="328.93" r="8.2"/><circle cx="323.00" cy="328.93" r="8.2"/><circle cx="312.50" cy="335.00" r="8.2"/><circle cx="319.50" cy="335.00" r="8.2"/><circle cx="309.00" cy="341.06" r="8.2"/><circle cx="316.00" cy="341.06" r="8.2"/><circle cx="323.00" cy="341.06" r="8.2"/><circle cx="305.50" cy="347.12" r="8.2"/><circle cx="312.50" cy="347.12" r="8.2"/><circle cx="319.50" cy="347.12" r="8.2"/><circle cx="302.00" cy="353.18" r="8.2"/><circle cx="309.00" cy="353.18" r="8.2"/><circle cx="316.00" cy="353.18" r="8.2"/><circle cx="323.00" cy="353.18" r="8.2"/><circle cx="270.50" cy="359.24" r="8.2"/><circle cx="277.50" cy="359.24" r="8.2"/><circle cx="284.50" cy="359.24" r="8.2"/><circle cx="291.50" cy="359.24" r="8.2"/><circle cx="298.50" cy="359.24" r="8.2"/><circle cx="305.50" cy="359.24" r="8.2"/><circle cx="312.50" cy="359.24" r="8.2"/><circle cx="319.50" cy="359.24" r="8.2"/><circle cx="274.00" cy="365.31" r="8.2"/><circle cx="281.00" cy="365.31" r="8.2"/><circle cx="288.00" cy="365.31" r="8.2"/><circle cx="295.00" cy="365.31" r="8.2"/><circle cx="302.00" cy="365.31" r="8.2"/><circle cx="309.00" cy="365.31" r="8.2"/><circle cx="316.00" cy="365.31" r="8.2"/><circle cx="277.50" cy="371.37" r="8.2"/><circle cx="284.50" cy="371.37" r="8.2"/><circle cx="291.50" cy="371.37" r="8.2"/><circle cx="298.50" cy="371.37" r="8.2"/><circle cx="305.50" cy="371.37" r="8.2"/><circle cx="312.50" cy="371.37" r="8.2"/><circle cx="288.00" cy="377.43" r="8.2"/><circle cx="295.00" cy="377.43" r="8.2"/><circle cx="302.00" cy="377.43" r="8.2"/><circle cx="309.00" cy="377.43" r="8.2"/><circle cx="316.00" cy="377.43" r="8.2"/><circle cx="291.50" cy="383.49" r="8.2"/><circle cx="298.50" cy="383.49" r="8.2"/><circle cx="305.50" cy="383.49" r="8.2"/><circle cx="288.00" cy="389.55" r="8.2"/><circle cx="295.00" cy="389.55" r="8.2"/><circle cx="302.00" cy="389.55" r="8.2"/><circle cx="291.50" cy="395.62" r="8.2"/><circle cx="251.60" cy="413.86" r="8.2"/><circle cx="259.60" cy="413.86" r="8.2"/><circle cx="267.60" cy="413.86" r="8.2"/><circle cx="275.60" cy="413.86" r="8.2"/><circle cx="283.60" cy="413.86" r="8.2"/><circle cx="255.60" cy="420.78" r="8.2"/><circle cx="263.60" cy="420.78" r="8.2"/><circle cx="271.60" cy="420.78" r="8.2"/><circle cx="279.60" cy="420.78" r="8.2"/><circle cx="243.60" cy="427.71" r="8.2"/><circle cx="251.60" cy="427.71" r="8.2"/><circle cx="259.60" cy="427.71" r="8.2"/><circle cx="267.60" cy="427.71" r="8.2"/><circle cx="275.60" cy="427.71" r="8.2"/><circle cx="239.60" cy="434.64" r="8.2"/><circle cx="247.60" cy="434.64" r="8.2"/><circle cx="255.60" cy="434.64" r="8.2"/><circle cx="263.60" cy="434.64" r="8.2"/><circle cx="271.60" cy="434.64" r="8.2"/><circle cx="210.10" cy="524.61" r="8.2"/><circle cx="207.00" cy="543.86" r="8.2"/><circle cx="203.00" cy="550.78" r="8.2"/><circle cx="211.00" cy="550.78" r="8.2"/><circle cx="207.00" cy="557.71" r="8.2"/></g>
</g>
<g fill="#262626" font-size="30.7"><text x="186.05" y="729.60" text-anchor="middle">0</text><text x="343.19" y="729.60" text-anchor="middle" textLength="52.3" lengthAdjust="spacingAndGlyphs">250</text><text x="500.33" y="729.60" text-anchor="middle" textLength="52.3" lengthAdjust="spacingAndGlyphs">500</text><text x="657.48" y="729.60" text-anchor="middle" textLength="52.3" lengthAdjust="spacingAndGlyphs">750</text><text x="814.62" y="729.60" text-anchor="middle" textLength="69.75" lengthAdjust="spacingAndGlyphs">1000</text><text x="971.76" y="729.60" text-anchor="middle" textLength="69.75" lengthAdjust="spacingAndGlyphs">1250</text><text x="1128.90" y="729.60" text-anchor="middle" textLength="69.75" lengthAdjust="spacingAndGlyphs">1500</text><text x="128.20" y="679.50" text-anchor="end">0</text><text x="128.20" y="592.17" text-anchor="end" textLength="52.3" lengthAdjust="spacingAndGlyphs">500</text><text x="128.20" y="504.83" text-anchor="end" textLength="69.75" lengthAdjust="spacingAndGlyphs">1000</text><text x="128.20" y="417.50" text-anchor="end" textLength="69.75" lengthAdjust="spacingAndGlyphs">1500</text><text x="128.20" y="330.17" text-anchor="end" textLength="69.75" lengthAdjust="spacingAndGlyphs">2000</text><text x="128.20" y="242.83" text-anchor="end" textLength="69.75" lengthAdjust="spacingAndGlyphs">2500</text><text x="128.20" y="155.50" text-anchor="end" textLength="69.75" lengthAdjust="spacingAndGlyphs">3000</text></g>
<text x="656.00" y="42.20" text-anchor="middle" font-size="30.6" fill="#262626" textLength="343" lengthAdjust="spacingAndGlyphs">channel=x1, geo=geo_a</text>
<text x="656.00" y="770.10" text-anchor="middle" font-size="30.4" fill="#262626" textLength="238.5" lengthAdjust="spacingAndGlyphs">Channel Data (X)</text>
<text transform="translate(42.00,379.90) rotate(-90)" x="0" y="0" text-anchor="middle" font-size="30.4" fill="#262626" textLength="343" lengthAdjust="spacingAndGlyphs">Channel Contribution (Y)</text>
</g>
<g id="ax2">
<rect x="1324.0" y="59.0" width="1034.00" height="638.80" fill="#eeeeee"/>
<path d="M1371.10 59.0V697.8M1528.24 59.0V697.8M1685.38 59.0V697.8M1842.52 59.0V697.8M1999.67 59.0V697.8M2156.81 59.0V697.8M2313.95 59.0V697.8M1324.0 669.00H2358.0M1324.0 582.98H2358.0M1324.0 496.97H2358.0M1324.0 410.95H2358.0M1324.0 324.93H2358.0M1324.0 238.92H2358.0M1324.0 152.90H2358.0M1324.0 66.88H2358.0" stroke="#ffffff" stroke-width="2.2" fill="none"/>
<g clip-path="url(#c2)">
<path d="M1371.10,669.00 L1378.94,634.37 L1386.78,600.96 L1394.62,568.87 L1402.47,538.18 L1410.31,508.92 L1418.15,481.11 L1425.99,454.76 L1433.83,429.85 L1441.67,406.35 L1449.51,384.22 L1457.36,363.42 L1465.20,343.89 L1473.04,325.60 L1480.88,308.47 L1488.72,292.45 L1496.56,277.49 L1504.40,263.52 L1512.24,250.51 L1520.09,238.38 L1527.93,227.09 L1535.77,216.59 L1543.61,206.83 L1551.45,197.77 L1559.29,189.35 L1567.13,181.55 L1574.98,174.31 L1582.82,167.60 L1590.66,161.39 L1598.50,155.65 L1606.34,150.33 L1614.18,145.42 L1622.02,140.87 L1629.87,136.68 L1637.71,132.80 L1645.55,129.23 L1653.39,125.93 L1661.23,122.89 L1669.07,120.09 L1676.91,117.51 L1684.75,115.13 L1692.60,112.94 L1700.44,110.93 L1708.28,109.07 L1716.12,107.37 L1723.96,105.80 L1731.80,104.36 L1739.64,103.04 L1747.49,101.82 L1755.33,100.71 L1763.17,99.68 L1771.01,98.74 L1778.85,97.88 L1786.69,97.09 L1794.53,96.36 L1802.38,95.70 L1810.22,95.09 L1818.06,94.53 L1825.90,94.02 L1833.74,93.55 L1841.58,93.12 L1849.42,92.72 L1857.26,92.36 L1865.11,92.03 L1872.95,91.73 L1880.79,91.45 L1888.63,91.20 L1896.47,90.97 L1904.31,90.75 L1912.15,90.56 L1920.00,90.38 L1927.84,90.22 L1935.68,90.07 L1943.52,89.93 L1951.36,89.81 L1959.20,89.70 L1967.04,89.59 L1974.89,89.50 L1982.73,89.41 L1990.57,89.33 L1998.41,89.26 L2006.25,89.19 L2014.09,89.13 L2021.93,89.08 L2029.78,89.02 L2037.62,88.98 L2045.46,88.94 L2053.30,88.90 L2061.14,88.86 L2068.98,88.83 L2076.82,88.80 L2084.66,88.77 L2092.51,88.75 L2100.35,88.73 L2108.19,88.71 L2116.03,88.69 L2123.87,88.67 L2131.71,88.65 L2139.55,88.64 L2147.40,88.63 L2155.24,88.62 L2163.08,88.60 L2170.92,88.59 L2178.76,88.59 L2186.60,88.58 L2194.44,88.57 L2202.29,88.56 L2210.13,88.56 L2217.97,88.55 L2225.81,88.55 L2233.65,88.54 L2241.49,88.54 L2249.33,88.53 L2257.17,88.53 L2265.02,88.53 L2272.86,88.52 L2280.70,88.52 L2288.54,88.52 L2296.38,88.51 L2304.22,88.51 L2312.06,88.51 L2312.06,174.68 L2304.22,174.68 L2296.38,174.69 L2288.54,174.69 L2280.70,174.69 L2272.86,174.69 L2265.02,174.69 L2257.17,174.69 L2249.33,174.69 L2241.49,174.69 L2233.65,174.69 L2225.81,174.69 L2217.97,174.70 L2210.13,174.70 L2202.29,174.70 L2194.44,174.70 L2186.60,174.70 L2178.76,174.71 L2170.92,174.71 L2163.08,174.71 L2155.24,174.72 L2147.40,174.72 L2139.55,174.72 L2131.71,174.73 L2123.87,174.73 L2116.03,174.74 L2108.19,174.75 L2100.35,174.75 L2092.51,174.76 L2084.66,174.77 L2076.82,174.78 L2068.98,174.79 L2061.14,174.80 L2053.30,174.81 L2045.46,174.83 L2037.62,174.84 L2029.78,174.86 L2021.93,174.88 L2014.09,174.90 L2006.25,174.93 L1998.41,174.96 L1990.57,174.99 L1982.73,175.02 L1974.89,175.05 L1967.04,175.09 L1959.20,175.14 L1951.36,175.19 L1943.52,175.24 L1935.68,175.30 L1927.84,175.37 L1920.00,175.45 L1912.15,175.53 L1904.31,175.62 L1896.47,175.72 L1888.63,175.83 L1880.79,175.96 L1872.95,176.10 L1865.11,176.25 L1857.26,176.42 L1849.42,176.60 L1841.58,176.81 L1833.74,177.04 L1825.90,177.29 L1818.06,177.57 L1810.22,177.88 L1802.38,178.23 L1794.53,178.61 L1786.69,179.03 L1778.85,179.50 L1771.01,180.01 L1763.17,180.58 L1755.33,181.21 L1747.49,181.91 L1739.64,182.69 L1731.80,183.54 L1723.96,184.49 L1716.12,185.53 L1708.28,186.69 L1700.44,187.96 L1692.60,189.37 L1684.75,190.93 L1676.91,192.65 L1669.07,194.54 L1661.23,196.63 L1653.39,198.94 L1645.55,201.48 L1637.71,204.28 L1629.87,207.37 L1622.02,210.76 L1614.18,214.49 L1606.34,218.59 L1598.50,223.08 L1590.66,228.02 L1582.82,233.42 L1574.98,239.33 L1567.13,245.79 L1559.29,252.85 L1551.45,260.54 L1543.61,268.90 L1535.77,277.99 L1527.93,287.85 L1520.09,298.51 L1512.24,310.02 L1504.40,322.42 L1496.56,335.74 L1488.72,350.01 L1480.88,365.26 L1473.04,381.49 L1465.20,398.72 L1457.36,416.94 L1449.51,436.13 L1441.67,456.27 L1433.83,477.31 L1425.99,499.21 L1418.15,521.89 L1410.31,545.27 L1402.47,569.25 L1394.62,593.74 L1386.78,618.61 L1378.94,643.74 L1371.10,669.00Z" fill="#2a2eec" fill-opacity="0.25" stroke="#2a2eec" stroke-opacity="0.25" stroke-width="2.7" stroke-linejoin="round"/>
<polyline points="1371.10,669.00 1378.94,640.05 1386.78,611.25 1394.62,582.78 1402.47,554.77 1410.31,527.38 1418.15,500.73 1425.99,474.92 1433.83,450.07 1441.67,426.24 1449.51,403.50 1457.36,381.90 1465.20,361.46 1473.04,342.20 1480.88,324.11 1488.72,307.20 1496.56,291.42 1504.40,276.75 1512.24,263.15 1520.09,250.57 1527.93,238.97 1535.77,228.30 1543.61,218.49 1551.45,209.50 1559.29,201.28 1567.13,193.76 1574.98,186.90 1582.82,180.66 1590.66,174.97 1598.50,169.80 1606.34,165.11 1614.18,160.85 1622.02,156.99 1629.87,153.49 1637.71,150.33 1645.55,147.46 1653.39,144.87 1661.23,142.53 1669.07,140.42 1676.91,138.51 1684.75,136.79 1692.60,135.23 1700.44,133.83 1708.28,132.56 1716.12,131.42 1723.96,130.39 1731.80,129.47 1739.64,128.63 1747.49,127.88 1755.33,127.20 1763.17,126.59 1771.01,126.04 1778.85,125.55 1786.69,125.10 1794.53,124.70 1802.38,124.34 1810.22,124.01 1818.06,123.72 1825.90,123.46 1833.74,123.22 1841.58,123.01 1849.42,122.81 1857.26,122.64 1865.11,122.49 1872.95,122.35 1880.79,122.22 1888.63,122.11 1896.47,122.01 1904.31,121.91 1912.15,121.83 1920.00,121.76 1927.84,121.69 1935.68,121.63 1943.52,121.58 1951.36,121.53 1959.20,121.48 1967.04,121.44 1974.89,121.41 1982.73,121.38 1990.57,121.35 1998.41,121.32 2006.25,121.30 2014.09,121.28 2021.93,121.26 2029.78,121.24 2037.62,121.23 2045.46,121.21 2053.30,121.20 2061.14,121.19 2068.98,121.18 2076.82,121.17 2084.66,121.16 2092.51,121.16 2100.35,121.15 2108.19,121.14 2116.03,121.14 2123.87,121.13 2131.71,121.13 2139.55,121.13 2147.40,121.12 2155.24,121.12 2163.08,121.12 2170.92,121.11 2178.76,121.11 2186.60,121.11 2194.44,121.11 2202.29,121.11 2210.13,121.10 2217.97,121.10 2225.81,121.10 2233.65,121.10 2241.49,121.10 2249.33,121.10 2257.17,121.10 2265.02,121.10 2272.86,121.10 2280.70,121.10 2288.54,121.10 2296.38,121.10 2304.22,121.09 2312.06,121.09" fill="none" stroke="#2a2eec" stroke-opacity="0.3" stroke-width="4.1" stroke-linecap="round" stroke-linejoin="round"/>
<polyline points="1371.10,669.00 1378.94,643.43 1386.78,617.97 1394.62,592.74 1402.47,567.85 1410.31,543.40 1418.15,519.47 1425.99,496.17 1433.83,473.56 1441.67,451.72 1449.51,430.69 1457.36,410.53 1465.20,391.26 1473.04,372.90 1480.88,355.48 1488.72,338.99 1496.56,323.43 1504.40,308.78 1512.24,295.03 1520.09,282.16 1527.93,270.13 1535.77,258.91 1543.61,248.47 1551.45,238.78 1559.29,229.79 1567.13,221.47 1574.98,213.78 1582.82,206.67 1590.66,200.13 1598.50,194.10 1606.34,188.55 1614.18,183.45 1622.02,178.77 1629.87,174.47 1637.71,170.53 1645.55,166.92 1653.39,163.62 1661.23,160.60 1669.07,157.83 1676.91,155.30 1684.75,152.99 1692.60,150.88 1700.44,148.96 1708.28,147.20 1716.12,145.60 1723.96,144.13 1731.80,142.80 1739.64,141.58 1747.49,140.47 1755.33,139.46 1763.17,138.54 1771.01,137.70 1778.85,136.94 1786.69,136.24 1794.53,135.61 1802.38,135.03 1810.22,134.51 1818.06,134.03 1825.90,133.59 1833.74,133.20 1841.58,132.84 1849.42,132.51 1857.26,132.21 1865.11,131.94 1872.95,131.69 1880.79,131.46 1888.63,131.26 1896.47,131.07 1904.31,130.90 1912.15,130.75 1920.00,130.61 1927.84,130.48 1935.68,130.36 1943.52,130.26 1951.36,130.16 1959.20,130.07 1967.04,129.99 1974.89,129.92 1982.73,129.86 1990.57,129.80 1998.41,129.74 2006.25,129.69 2014.09,129.65 2021.93,129.61 2029.78,129.57 2037.62,129.54 2045.46,129.50 2053.30,129.48 2061.14,129.45 2068.98,129.43 2076.82,129.41 2084.66,129.39 2092.51,129.37 2100.35,129.35 2108.19,129.34 2116.03,129.33 2123.87,129.31 2131.71,129.30 2139.55,129.29 2147.40,129.28 2155.24,129.28 2163.08,129.27 2170.92,129.26 2178.76,129.26 2186.60,129.25 2194.44,129.25 2202.29,129.24 2210.13,129.24 2217.97,129.23 2225.81,129.23 2233.65,129.23 2241.49,129.22 2249.33,129.22 2257.17,129.22 2265.02,129.22 2272.86,129.21 2280.70,129.21 2288.54,129.21 2296.38,129.21 2304.22,129.21 2312.06,129.21" fill="none" stroke="#2a2eec" stroke-opacity="0.3" stroke-width="4.1" stroke-linecap="round" stroke-linejoin="round"/>
<polyline points="1371.10,669.00 1378.94,643.43 1386.78,617.97 1394.62,592.74 1402.47,567.85 1410.31,543.40 1418.15,519.47 1425.99,496.17 1433.83,473.56 1441.67,451.72 1449.51,430.69 1457.36,410.53 1465.20,391.26 1473.04,372.90 1480.88,355.48 1488.72,338.99 1496.56,323.43 1504.40,308.78 1512.24,295.03 1520.09,282.16 1527.93,270.13 1535.77,258.91 1543.61,248.47 1551.45,238.78 1559.29,229.79 1567.13,221.47 1574.98,213.78 1582.82,206.67 1590.66,200.13 1598.50,194.10 1606.34,188.55 1614.18,183.45 1622.02,178.77 1629.87,174.47 1637.71,170.53 1645.55,166.92 1653.39,163.62 1661.23,160.60 1669.07,157.83 1676.91,155.30 1684.75,152.99 1692.60,150.88 1700.44,148.96 1708.28,147.20 1716.12,145.60 1723.96,144.13 1731.80,142.80 1739.64,141.58 1747.49,140.47 1755.33,139.46 1763.17,138.54 1771.01,137.70 1778.85,136.94 1786.69,136.24 1794.53,135.61 1802.38,135.03 1810.22,134.51 1818.06,134.03 1825.90,133.59 1833.74,133.20 1841.58,132.84 1849.42,132.51 1857.26,132.21 1865.11,131.94 1872.95,131.69 1880.79,131.46 1888.63,131.26 1896.47,131.07 1904.31,130.90 1912.15,130.75 1920.00,130.61 1927.84,130.48 1935.68,130.36 1943.52,130.26 1951.36,130.16 1959.20,130.07 1967.04,129.99 1974.89,129.92 1982.73,129.86 1990.57,129.80 1998.41,129.74 2006.25,129.69 2014.09,129.65 2021.93,129.61 2029.78,129.57 2037.62,129.54 2045.46,129.50 2053.30,129.48 2061.14,129.45 2068.98,129.43 2076.82,129.41 2084.66,129.39 2092.51,129.37 2100.35,129.35 2108.19,129.34 2116.03,129.33 2123.87,129.31 2131.71,129.30 2139.55,129.29 2147.40,129.28 2155.24,129.28 2163.08,129.27 2170.92,129.26 2178.76,129.26 2186.60,129.25 2194.44,129.25 2202.29,129.24 2210.13,129.24 2217.97,129.23 2225.81,129.23 2233.65,129.23 2241.49,129.22 2249.33,129.22 2257.17,129.22 2265.02,129.22 2272.86,129.21 2280.70,129.21 2288.54,129.21 2296.38,129.21 2304.22,129.21 2312.06,129.21" fill="none" stroke="#2a2eec" stroke-opacity="0.3" stroke-width="4.1" stroke-linecap="round" stroke-linejoin="round"/>
<polyline points="1371.10,669.00 1378.94,642.85 1386.78,616.82 1394.62,591.04 1402.47,565.61 1410.31,540.66 1418.15,516.28 1425.99,492.56 1433.83,469.59 1441.67,447.43 1449.51,426.14 1457.36,405.77 1465.20,386.34 1473.04,367.88 1480.88,350.40 1488.72,333.89 1496.56,318.36 1504.40,303.78 1512.24,290.13 1520.09,277.39 1527.93,265.52 1535.77,254.48 1543.61,244.24 1551.45,234.76 1559.29,225.99 1567.13,217.90 1574.98,210.44 1582.82,203.57 1590.66,197.26 1598.50,191.47 1606.34,186.15 1614.18,181.28 1622.02,176.82 1629.87,172.74 1637.71,169.01 1645.55,165.61 1653.39,162.50 1661.23,159.66 1669.07,157.07 1676.91,154.71 1684.75,152.56 1692.60,150.60 1700.44,148.82 1708.28,147.20 1716.12,145.72 1723.96,144.38 1731.80,143.16 1739.64,142.05 1747.49,141.04 1755.33,140.12 1763.17,139.28 1771.01,138.53 1778.85,137.84 1786.69,137.21 1794.53,136.64 1802.38,136.13 1810.22,135.66 1818.06,135.23 1825.90,134.85 1833.74,134.50 1841.58,134.18 1849.42,133.89 1857.26,133.63 1865.11,133.39 1872.95,133.17 1880.79,132.98 1888.63,132.80 1896.47,132.64 1904.31,132.49 1912.15,132.36 1920.00,132.24 1927.84,132.13 1935.68,132.03 1943.52,131.94 1951.36,131.85 1959.20,131.78 1967.04,131.71 1974.89,131.65 1982.73,131.60 1990.57,131.55 1998.41,131.50 2006.25,131.46 2014.09,131.42 2021.93,131.39 2029.78,131.36 2037.62,131.33 2045.46,131.30 2053.30,131.28 2061.14,131.26 2068.98,131.24 2076.82,131.22 2084.66,131.21 2092.51,131.19 2100.35,131.18 2108.19,131.17 2116.03,131.16 2123.87,131.15 2131.71,131.14 2139.55,131.13 2147.40,131.12 2155.24,131.12 2163.08,131.11 2170.92,131.10 2178.76,131.10 2186.60,131.10 2194.44,131.09 2202.29,131.09 2210.13,131.08 2217.97,131.08 2225.81,131.08 2233.65,131.08 2241.49,131.07 2249.33,131.07 2257.17,131.07 2265.02,131.07 2272.86,131.07 2280.70,131.07 2288.54,131.06 2296.38,131.06 2304.22,131.06 2312.06,131.06" fill="none" stroke="#2a2eec" stroke-opacity="0.3" stroke-width="4.1" stroke-linecap="round" stroke-linejoin="round"/>
<polyline points="1371.10,669.00 1378.94,642.61 1386.78,616.36 1394.62,590.36 1402.47,564.75 1410.31,539.63 1418.15,515.12 1425.99,491.31 1433.83,468.28 1441.67,446.11 1449.51,424.85 1457.36,404.55 1465.20,385.23 1473.04,366.92 1480.88,349.62 1488.72,333.34 1496.56,318.05 1504.40,303.74 1512.24,290.38 1520.09,277.94 1527.93,266.39 1535.77,255.68 1543.61,245.77 1551.45,236.63 1559.29,228.20 1567.13,220.44 1574.98,213.31 1582.82,206.77 1590.66,200.77 1598.50,195.28 1606.34,190.26 1614.18,185.67 1622.02,181.48 1629.87,177.66 1637.71,174.18 1645.55,171.01 1653.39,168.12 1661.23,165.50 1669.07,163.11 1676.91,160.94 1684.75,158.96 1692.60,157.17 1700.44,155.54 1708.28,154.06 1716.12,152.72 1723.96,151.51 1731.80,150.40 1739.64,149.40 1747.49,148.50 1755.33,147.67 1763.17,146.93 1771.01,146.25 1778.85,145.64 1786.69,145.09 1794.53,144.58 1802.38,144.13 1810.22,143.72 1818.06,143.34 1825.90,143.01 1833.74,142.70 1841.58,142.42 1849.42,142.17 1857.26,141.94 1865.11,141.74 1872.95,141.55 1880.79,141.38 1888.63,141.23 1896.47,141.09 1904.31,140.97 1912.15,140.85 1920.00,140.75 1927.84,140.66 1935.68,140.57 1943.52,140.50 1951.36,140.43 1959.20,140.37 1967.04,140.31 1974.89,140.26 1982.73,140.21 1990.57,140.17 1998.41,140.13 2006.25,140.10 2014.09,140.07 2021.93,140.04 2029.78,140.02 2037.62,139.99 2045.46,139.97 2053.30,139.95 2061.14,139.94 2068.98,139.92 2076.82,139.91 2084.66,139.89 2092.51,139.88 2100.35,139.87 2108.19,139.86 2116.03,139.85 2123.87,139.85 2131.71,139.84 2139.55,139.83 2147.40,139.83 2155.24,139.82 2163.08,139.82 2170.92,139.81 2178.76,139.81 2186.60,139.81 2194.44,139.80 2202.29,139.80 2210.13,139.80 2217.97,139.80 2225.81,139.79 2233.65,139.79 2241.49,139.79 2249.33,139.79 2257.17,139.79 2265.02,139.79 2272.86,139.78 2280.70,139.78 2288.54,139.78 2296.38,139.78 2304.22,139.78 2312.06,139.78" fill="none" stroke="#2a2eec" stroke-opacity="0.3" stroke-width="4.1" stroke-linecap="round" stroke-linejoin="round"/>
<polyline points="1371.10,669.00 1378.94,641.13 1386.78,613.42 1394.62,586.03 1402.47,559.10 1410.31,532.78 1418.15,507.18 1425.99,482.43 1433.83,458.60 1441.67,435.79 1449.51,414.05 1457.36,393.43 1465.20,373.94 1473.04,355.60 1480.88,338.41 1488.72,322.35 1496.56,307.40 1504.40,293.53 1512.24,280.69 1520.09,268.83 1527.93,257.92 1535.77,247.89 1543.61,238.70 1551.45,230.29 1559.29,222.60 1567.13,215.59 1574.98,209.21 1582.82,203.41 1590.66,198.13 1598.50,193.35 1606.34,189.01 1614.18,185.08 1622.02,181.52 1629.87,178.31 1637.71,175.40 1645.55,172.78 1653.39,170.41 1661.23,168.27 1669.07,166.34 1676.91,164.60 1684.75,163.04 1692.60,161.62 1700.44,160.35 1708.28,159.21 1716.12,158.18 1723.96,157.25 1731.80,156.42 1739.64,155.67 1747.49,154.99 1755.33,154.39 1763.17,153.84 1771.01,153.35 1778.85,152.91 1786.69,152.51 1794.53,152.15 1802.38,151.83 1810.22,151.55 1818.06,151.29 1825.90,151.05 1833.74,150.85 1841.58,150.66 1849.42,150.49 1857.26,150.34 1865.11,150.20 1872.95,150.08 1880.79,149.97 1888.63,149.87 1896.47,149.78 1904.31,149.70 1912.15,149.63 1920.00,149.56 1927.84,149.51 1935.68,149.45 1943.52,149.41 1951.36,149.37 1959.20,149.33 1967.04,149.29 1974.89,149.26 1982.73,149.24 1990.57,149.21 1998.41,149.19 2006.25,149.17 2014.09,149.15 2021.93,149.14 2029.78,149.12 2037.62,149.11 2045.46,149.10 2053.30,149.09 2061.14,149.08 2068.98,149.07 2076.82,149.06 2084.66,149.05 2092.51,149.05 2100.35,149.04 2108.19,149.04 2116.03,149.03 2123.87,149.03 2131.71,149.03 2139.55,149.02 2147.40,149.02 2155.24,149.02 2163.08,149.02 2170.92,149.01 2178.76,149.01 2186.60,149.01 2194.44,149.01 2202.29,149.01 2210.13,149.01 2217.97,149.00 2225.81,149.00 2233.65,149.00 2241.49,149.00 2249.33,149.00 2257.17,149.00 2265.02,149.00 2272.86,149.00 2280.70,149.00 2288.54,149.00 2296.38,149.00 2304.22,149.00 2312.06,149.00" fill="none" stroke="#2a2eec" stroke-opacity="0.3" stroke-width="4.1" stroke-linecap="round" stroke-linejoin="round"/>
<polyline points="1371.10,669.00 1378.94,641.13 1386.78,613.42 1394.62,586.03 1402.47,559.10 1410.31,532.78 1418.15,507.18 1425.99,482.43 1433.83,458.60 1441.67,435.79 1449.51,414.05 1457.36,393.43 1465.20,373.94 1473.04,355.60 1480.88,338.41 1488.72,322.35 1496.56,307.40 1504.40,293.53 1512.24,280.69 1520.09,268.83 1527.93,257.92 1535.77,247.89 1543.61,238.70 1551.45,230.29 1559.29,222.60 1567.13,215.59 1574.98,209.21 1582.82,203.41 1590.66,198.13 1598.50,193.35 1606.34,189.01 1614.18,185.08 1622.02,181.52 1629.87,178.31 1637.71,175.40 1645.55,172.78 1653.39,170.41 1661.23,168.27 1669.07,166.34 1676.91,164.60 1684.75,163.04 1692.60,161.62 1700.44,160.35 1708.28,159.21 1716.12,158.18 1723.96,157.25 1731.80,156.42 1739.64,155.67 1747.49,154.99 1755.33,154.39 1763.17,153.84 1771.01,153.35 1778.85,152.91 1786.69,152.51 1794.53,152.15 1802.38,151.83 1810.22,151.55 1818.06,151.29 1825.90,151.05 1833.74,150.85 1841.58,150.66 1849.42,150.49 1857.26,150.34 1865.11,150.20 1872.95,150.08 1880.79,149.97 1888.63,149.87 1896.47,149.78 1904.31,149.70 1912.15,149.63 1920.00,149.56 1927.84,149.51 1935.68,149.45 1943.52,149.41 1951.36,149.37 1959.20,149.33 1967.04,149.29 1974.89,149.26 1982.73,149.24 1990.57,149.21 1998.41,149.19 2006.25,149.17 2014.09,149.15 2021.93,149.14 2029.78,149.12 2037.62,149.11 2045.46,149.10 2053.30,149.09 2061.14,149.08 2068.98,149.07 2076.82,149.06 2084.66,149.05 2092.51,149.05 2100.35,149.04 2108.19,149.04 2116.03,149.03 2123.87,149.03 2131.71,149.03 2139.55,149.02 2147.40,149.02 2155.24,149.02 2163.08,149.02 2170.92,149.01 2178.76,149.01 2186.60,149.01 2194.44,149.01 2202.29,149.01 2210.13,149.01 2217.97,149.00 2225.81,149.00 2233.65,149.00 2241.49,149.00 2249.33,149.00 2257.17,149.00 2265.02,149.00 2272.86,149.00 2280.70,149.00 2288.54,149.00 2296.38,149.00 2304.22,149.00 2312.06,149.00" fill="none" stroke="#2a2eec" stroke-opacity="0.3" stroke-width="4.1" stroke-linecap="round" stroke-linejoin="round"/>
<polyline points="1371.10,669.00 1378.94,642.17 1386.78,615.49 1394.62,589.10 1402.47,563.14 1410.31,537.73 1418.15,513.00 1425.99,489.04 1433.83,465.94 1441.67,443.78 1449.51,422.63 1457.36,402.50 1465.20,383.45 1473.04,365.48 1480.88,348.58 1488.72,332.76 1496.56,317.99 1504.40,304.24 1512.24,291.48 1520.09,279.66 1527.93,268.75 1535.77,258.70 1543.61,249.46 1551.45,240.97 1559.29,233.20 1567.13,226.09 1574.98,219.59 1582.82,213.66 1590.66,208.27 1598.50,203.35 1606.34,198.89 1614.18,194.83 1622.02,191.14 1629.87,187.80 1637.71,184.78 1645.55,182.04 1653.39,179.55 1661.23,177.31 1669.07,175.28 1676.91,173.44 1684.75,171.78 1692.60,170.28 1700.44,168.93 1708.28,167.71 1716.12,166.60 1723.96,165.61 1731.80,164.71 1739.64,163.90 1747.49,163.17 1755.33,162.51 1763.17,161.92 1771.01,161.38 1778.85,160.90 1786.69,160.47 1794.53,160.07 1802.38,159.72 1810.22,159.40 1818.06,159.12 1825.90,158.86 1833.74,158.62 1841.58,158.42 1849.42,158.23 1857.26,158.06 1865.11,157.90 1872.95,157.76 1880.79,157.64 1888.63,157.53 1896.47,157.43 1904.31,157.34 1912.15,157.25 1920.00,157.18 1927.84,157.11 1935.68,157.05 1943.52,157.00 1951.36,156.95 1959.20,156.91 1967.04,156.87 1974.89,156.83 1982.73,156.80 1990.57,156.77 1998.41,156.75 2006.25,156.72 2014.09,156.70 2021.93,156.68 2029.78,156.67 2037.62,156.65 2045.46,156.64 2053.30,156.63 2061.14,156.61 2068.98,156.60 2076.82,156.59 2084.66,156.59 2092.51,156.58 2100.35,156.57 2108.19,156.57 2116.03,156.56 2123.87,156.56 2131.71,156.55 2139.55,156.55 2147.40,156.54 2155.24,156.54 2163.08,156.54 2170.92,156.54 2178.76,156.53 2186.60,156.53 2194.44,156.53 2202.29,156.53 2210.13,156.53 2217.97,156.53 2225.81,156.52 2233.65,156.52 2241.49,156.52 2249.33,156.52 2257.17,156.52 2265.02,156.52 2272.86,156.52 2280.70,156.52 2288.54,156.52 2296.38,156.52 2304.22,156.52 2312.06,156.52" fill="none" stroke="#2a2eec" stroke-opacity="0.3" stroke-width="4.1" stroke-linecap="round" stroke-linejoin="round"/>
<polyline points="1371.10,669.00 1378.94,640.61 1386.78,612.41 1394.62,584.58 1402.47,557.28 1410.31,530.69 1418.15,504.93 1425.99,480.13 1433.83,456.39 1441.67,433.79 1449.51,412.39 1457.36,392.22 1465.20,373.31 1473.04,355.65 1480.88,339.22 1488.72,324.01 1496.56,309.96 1504.40,297.03 1512.24,285.17 1520.09,274.32 1527.93,264.41 1535.77,255.40 1543.61,247.20 1551.45,239.77 1559.29,233.05 1567.13,226.97 1574.98,221.48 1582.82,216.53 1590.66,212.07 1598.50,208.07 1606.34,204.46 1614.18,201.23 1622.02,198.33 1629.87,195.73 1637.71,193.39 1645.55,191.30 1653.39,189.44 1661.23,187.76 1669.07,186.27 1676.91,184.93 1684.75,183.73 1692.60,182.66 1700.44,181.71 1708.28,180.85 1716.12,180.09 1723.96,179.41 1731.80,178.81 1739.64,178.26 1747.49,177.78 1755.33,177.35 1763.17,176.96 1771.01,176.62 1778.85,176.31 1786.69,176.04 1794.53,175.80 1802.38,175.58 1810.22,175.38 1818.06,175.21 1825.90,175.06 1833.74,174.92 1841.58,174.80 1849.42,174.69 1857.26,174.59 1865.11,174.50 1872.95,174.42 1880.79,174.35 1888.63,174.29 1896.47,174.24 1904.31,174.19 1912.15,174.14 1920.00,174.11 1927.84,174.07 1935.68,174.04 1943.52,174.01 1951.36,173.99 1959.20,173.97 1967.04,173.95 1974.89,173.93 1982.73,173.91 1990.57,173.90 1998.41,173.89 2006.25,173.88 2014.09,173.87 2021.93,173.86 2029.78,173.85 2037.62,173.84 2045.46,173.84 2053.30,173.83 2061.14,173.83 2068.98,173.82 2076.82,173.82 2084.66,173.81 2092.51,173.81 2100.35,173.81 2108.19,173.81 2116.03,173.80 2123.87,173.80 2131.71,173.80 2139.55,173.80 2147.40,173.80 2155.24,173.80 2163.08,173.79 2170.92,173.79 2178.76,173.79 2186.60,173.79 2194.44,173.79 2202.29,173.79 2210.13,173.79 2217.97,173.79 2225.81,173.79 2233.65,173.79 2241.49,173.79 2249.33,173.79 2257.17,173.79 2265.02,173.79 2272.86,173.79 2280.70,173.79 2288.54,173.79 2296.38,173.79 2304.22,173.79 2312.06,173.79" fill="none" stroke="#2a2eec" stroke-opacity="0.3" stroke-width="4.1" stroke-linecap="round" stroke-linejoin="round"/>
<polyline points="1371.10,669.00 1378.94,645.94 1386.78,622.99 1394.62,600.23 1402.47,577.78 1410.31,555.71 1418.15,534.12 1425.99,513.07 1433.83,492.65 1441.67,472.90 1449.51,453.89 1457.36,435.64 1465.20,418.19 1473.04,401.56 1480.88,385.76 1488.72,370.79 1496.56,356.65 1504.40,343.34 1512.24,330.83 1520.09,319.11 1527.93,308.15 1535.77,297.91 1543.61,288.39 1551.45,279.53 1559.29,271.31 1567.13,263.69 1574.98,256.64 1582.82,250.13 1590.66,244.12 1598.50,238.58 1606.34,233.48 1614.18,228.79 1622.02,224.47 1629.87,220.51 1637.71,216.88 1645.55,213.55 1653.39,210.49 1661.23,207.70 1669.07,205.14 1676.91,202.79 1684.75,200.65 1692.60,198.69 1700.44,196.90 1708.28,195.27 1716.12,193.78 1723.96,192.41 1731.80,191.17 1739.64,190.04 1747.49,189.00 1755.33,188.06 1763.17,187.20 1771.01,186.41 1778.85,185.69 1786.69,185.04 1794.53,184.45 1802.38,183.91 1810.22,183.41 1818.06,182.96 1825.90,182.55 1833.74,182.18 1841.58,181.84 1849.42,181.53 1857.26,181.25 1865.11,180.99 1872.95,180.76 1880.79,180.54 1888.63,180.35 1896.47,180.17 1904.31,180.01 1912.15,179.87 1920.00,179.73 1927.84,179.61 1935.68,179.50 1943.52,179.40 1951.36,179.31 1959.20,179.22 1967.04,179.15 1974.89,179.08 1982.73,179.02 1990.57,178.96 1998.41,178.91 2006.25,178.86 2014.09,178.82 2021.93,178.78 2029.78,178.74 2037.62,178.71 2045.46,178.68 2053.30,178.65 2061.14,178.63 2068.98,178.61 2076.82,178.58 2084.66,178.57 2092.51,178.55 2100.35,178.53 2108.19,178.52 2116.03,178.51 2123.87,178.50 2131.71,178.49 2139.55,178.48 2147.40,178.47 2155.24,178.46 2163.08,178.45 2170.92,178.44 2178.76,178.44 2186.60,178.43 2194.44,178.43 2202.29,178.42 2210.13,178.42 2217.97,178.42 2225.81,178.41 2233.65,178.41 2241.49,178.41 2249.33,178.40 2257.17,178.40 2265.02,178.40 2272.86,178.40 2280.70,178.40 2288.54,178.39 2296.38,178.39 2304.22,178.39 2312.06,178.39" fill="none" stroke="#2a2eec" stroke-opacity="0.3" stroke-width="4.1" stroke-linecap="round" stroke-linejoin="round"/>
<g fill="#2a2eec" fill-opacity="0.8" stroke="#2a2eec" stroke-opacity="0.8" stroke-width="2.6"><circle cx="1498.45" cy="230.40" r="8.2"/><circle cx="1505.55" cy="250.30" r="8.2"/><circle cx="1449.35" cy="262.30" r="8.2"/><circle cx="1483.45" cy="262.30" r="8.2"/><circle cx="1468.15" cy="277.00" r="8.2"/><circle cx="1473.85" cy="284.60" r="8.2"/><circle cx="1450.25" cy="289.10" r="8.2"/><circle cx="1453.25" cy="292.30" r="8.2"/><circle cx="1465.55" cy="292.30" r="8.2"/><circle cx="1433.45" cy="303.10" r="8.2"/><circle cx="1485.35" cy="297.40" r="8.2"/><circle cx="1498.75" cy="289.70" r="8.2"/><circle cx="1510.85" cy="291.60" r="8.2"/><circle cx="1495.55" cy="300.60" r="8.2"/><circle cx="1507.05" cy="298.00" r="8.2"/><circle cx="1509.55" cy="308.20" r="8.2"/><circle cx="1427.35" cy="322.20" r="8.2"/><circle cx="1514.05" cy="325.40" r="8.2"/><circle cx="1416.45" cy="340.10" r="8.2"/><circle cx="1475.15" cy="331.80" r="8.2"/><circle cx="1498.15" cy="322.20" r="8.2"/><circle cx="1487.95" cy="328.60" r="8.2"/><circle cx="1508.35" cy="340.10" r="8.2"/><circle cx="1426.45" cy="356.00" r="8.2"/><circle cx="1513.45" cy="356.70" r="8.2"/><circle cx="1450.95" cy="356.00" r="8.2"/><circle cx="1462.35" cy="356.70" r="8.2"/><circle cx="1446.45" cy="367.50" r="8.2"/><circle cx="1505.75" cy="370.70" r="8.2"/><circle cx="1503.25" cy="381.60" r="8.2"/><circle cx="1398.35" cy="377.30" r="8.2"/><circle cx="1433.45" cy="387.30" r="8.2"/><circle cx="1451.55" cy="393.70" r="8.2"/><circle cx="1421.55" cy="403.90" r="8.2"/><circle cx="1479.05" cy="405.20" r="8.2"/><circle cx="1493.05" cy="389.80" r="8.2"/><circle cx="1498.85" cy="301.90" r="8.2"/><circle cx="1505.25" cy="314.60" r="8.2"/><circle cx="1498.85" cy="327.40" r="8.2"/><circle cx="1490.55" cy="330.60" r="8.2"/><circle cx="1505.25" cy="340.20" r="8.2"/><circle cx="1482.85" cy="347.80" r="8.2"/><circle cx="1498.85" cy="349.70" r="8.2"/><circle cx="1473.35" cy="359.30" r="8.2"/><circle cx="1489.25" cy="359.30" r="8.2"/><circle cx="1505.25" cy="365.70" r="8.2"/><circle cx="1445.85" cy="364.40" r="8.2"/><circle cx="1426.25" cy="360.00" r="8.2"/><circle cx="1513.25" cy="360.00" r="8.2"/><circle cx="1471.15" cy="388.10" r="8.2"/><circle cx="1438.15" cy="409.10" r="8.2"/><circle cx="1454.35" cy="409.10" r="8.2"/><circle cx="1482.35" cy="406.30" r="8.2"/><circle cx="1474.65" cy="421.70" r="8.2"/><circle cx="1431.15" cy="421.00" r="8.2"/><circle cx="1419.25" cy="433.70" r="8.2"/><circle cx="1468.35" cy="439.30" r="8.2"/><circle cx="1450.15" cy="438.60" r="8.2"/><circle cx="1461.35" cy="455.40" r="8.2"/><circle cx="1447.35" cy="458.20" r="8.2"/><circle cx="1471.15" cy="470.10" r="8.2"/><circle cx="1421.35" cy="451.20" r="8.2"/><circle cx="1434.35" cy="407.70" r="8.2"/><circle cx="1434.35" cy="417.90" r="8.2"/><circle cx="1419.05" cy="425.50" r="8.2"/><circle cx="1413.95" cy="439.50" r="8.2"/><circle cx="1421.55" cy="438.30" r="8.2"/><circle cx="1456.05" cy="438.30" r="8.2"/><circle cx="1441.95" cy="444.60" r="8.2"/><circle cx="1406.25" cy="456.10" r="8.2"/><circle cx="1419.05" cy="453.60" r="8.2"/><circle cx="1372.45" cy="467.30" r="8.2"/><circle cx="1391.65" cy="463.80" r="8.2"/><circle cx="1384.55" cy="474.60" r="8.2"/><circle cx="1403.75" cy="477.80" r="8.2"/><circle cx="1421.55" cy="482.90" r="8.2"/><circle cx="1431.75" cy="474.00" r="8.2"/><circle cx="1440.75" cy="484.20" r="8.2"/><circle cx="1391.65" cy="491.80" r="8.2"/><circle cx="1388.45" cy="502.00" r="8.2"/><circle cx="1374.35" cy="507.10" r="8.2"/><circle cx="1403.75" cy="504.60" r="8.2"/><circle cx="1434.35" cy="496.90" r="8.2"/><circle cx="1436.85" cy="505.90" r="8.2"/><circle cx="1426.65" cy="509.70" r="8.2"/><circle cx="1407.55" cy="517.30" r="8.2"/><circle cx="1429.25" cy="518.60" r="8.2"/><circle cx="1385.85" cy="521.20" r="8.2"/><circle cx="1378.25" cy="525.00" r="8.2"/><circle cx="1374.35" cy="533.30" r="8.2"/><circle cx="1385.85" cy="533.90" r="8.2"/><circle cx="1396.05" cy="542.90" r="8.2"/><circle cx="1423.45" cy="539.00" r="8.2"/><circle cx="1375.65" cy="556.30" r="8.2"/><circle cx="1384.55" cy="556.30" r="8.2"/><circle cx="1399.85" cy="565.80" r="8.2"/><circle cx="1392.25" cy="572.20" r="8.2"/><circle cx="1379.25" cy="581.10" r="8.2"/><circle cx="1394.75" cy="579.80" r="8.2"/><circle cx="1378.25" cy="599.00" r="8.2"/><circle cx="1421.75" cy="454.20" r="8.2"/><circle cx="1404.95" cy="486.50" r="8.2"/><circle cx="1386.75" cy="523.70" r="8.2"/><circle cx="1388.15" cy="555.20" r="8.2"/><circle cx="1395.65" cy="530.00" r="8.2"/><circle cx="1378.45" cy="605.20" r="8.2"/><circle cx="1383.05" cy="607.50" r="8.2"/><circle cx="1381.75" cy="609.70" r="8.2"/><circle cx="1375.65" cy="560.80" r="8.2"/><circle cx="1679.05" cy="164.90" r="8.2"/><circle cx="1685.45" cy="168.70" r="8.2"/><circle cx="1656.75" cy="186.60" r="8.2"/><circle cx="1684.15" cy="184.00" r="8.2"/><circle cx="1682.25" cy="196.10" r="8.2"/><circle cx="1657.35" cy="198.70" r="8.2"/><circle cx="1675.85" cy="211.50" r="8.2"/><circle cx="1662.45" cy="217.80" r="8.2"/><circle cx="1668.25" cy="203.80" r="8.2"/><circle cx="1673.35" cy="191.00" r="8.2"/><circle cx="1663.75" cy="191.00" r="8.2"/><circle cx="1411.05" cy="474.00" r="8.2"/><circle cx="1419.05" cy="478.00" r="8.2"/><circle cx="1415.05" cy="484.00" r="8.2"/><circle cx="1423.05" cy="472.00" r="8.2"/><circle cx="1385.05" cy="525.00" r="8.2"/><circle cx="1395.05" cy="530.00" r="8.2"/><circle cx="1390.05" cy="540.00" r="8.2"/><circle cx="1400.05" cy="545.00" r="8.2"/><circle cx="1383.05" cy="550.00" r="8.2"/><circle cx="1395.05" cy="556.00" r="8.2"/><circle cx="1405.05" cy="522.00" r="8.2"/><circle cx="1423.25" cy="538.90" r="8.2"/><circle cx="1423.25" cy="538.90" r="8.2"/><circle cx="1397.05" cy="565.00" r="8.2"/><circle cx="1403.05" cy="575.00" r="8.2"/><circle cx="1395.05" cy="580.00" r="8.2"/><circle cx="1661.05" cy="190.00" r="8.2"/><circle cx="1668.05" cy="196.00" r="8.2"/><circle cx="1673.05" cy="204.00" r="8.2"/><circle cx="1665.05" cy="210.00" r="8.2"/><circle cx="1671.05" cy="186.00" r="8.2"/><circle cx="1679.05" cy="180.00" r="8.2"/><circle cx="1659.05" cy="200.00" r="8.2"/><circle cx="1667.05" cy="214.00" r="8.2"/><circle cx="1677.05" cy="196.00" r="8.2"/><circle cx="1682.05" cy="172.00" r="8.2"/><circle cx="1504.55" cy="298.62" r="8.2"/><circle cx="1508.05" cy="304.69" r="8.2"/><circle cx="1504.55" cy="322.87" r="8.2"/><circle cx="1501.05" cy="328.93" r="8.2"/><circle cx="1508.05" cy="328.93" r="8.2"/><circle cx="1497.55" cy="335.00" r="8.2"/><circle cx="1504.55" cy="335.00" r="8.2"/><circle cx="1494.05" cy="341.06" r="8.2"/><circle cx="1501.05" cy="341.06" r="8.2"/><circle cx="1508.05" cy="341.06" r="8.2"/><circle cx="1490.55" cy="347.12" r="8.2"/><circle cx="1497.55" cy="347.12" r="8.2"/><circle cx="1504.55" cy="347.12" r="8.2"/><circle cx="1487.05" cy="353.18" r="8.2"/><circle cx="1494.05" cy="353.18" r="8.2"/><circle cx="1501.05" cy="353.18" r="8.2"/><circle cx="1508.05" cy="353.18" r="8.2"/><circle cx="1455.55" cy="359.24" r="8.2"/><circle cx="1462.55" cy="359.24" r="8.2"/><circle cx="1469.55" cy="359.24" r="8.2"/><circle cx="1476.55" cy="359.24" r="8.2"/><circle cx="1483.55" cy="359.24" r="8.2"/><circle cx="1490.55" cy="359.24" r="8.2"/><circle cx="1497.55" cy="359.24" r="8.2"/><circle cx="1504.55" cy="359.24" r="8.2"/><circle cx="1459.05" cy="365.31" r="8.2"/><circle cx="1466.05" cy="365.31" r="8.2"/><circle cx="1473.05" cy="365.31" r="8.2"/><circle cx="1480.05" cy="365.31" r="8.2"/><circle cx="1487.05" cy="365.31" r="8.2"/><circle cx="1494.05" cy="365.31" r="8.2"/><circle cx="1501.05" cy="365.31" r="8.2"/><circle cx="1462.55" cy="371.37" r="8.2"/><circle cx="1469.55" cy="371.37" r="8.2"/><circle cx="1476.55" cy="371.37" r="8.2"/><circle cx="1483.55" cy="371.37" r="8.2"/><circle cx="1490.55" cy="371.37" r="8.2"/><circle cx="1497.55" cy="371.37" r="8.2"/><circle cx="1473.05" cy="377.43" r="8.2"/><circle cx="1480.05" cy="377.43" r="8.2"/><circle cx="1487.05" cy="377.43" r="8.2"/><circle cx="1494.05" cy="377.43" r="8.2"/><circle cx="1501.05" cy="377.43" r="8.2"/><circle cx="1476.55" cy="383.49" r="8.2"/><circle cx="1483.55" cy="383.49" r="8.2"/><circle cx="1490.55" cy="383.49" r="8.2"/><circle cx="1473.05" cy="389.55" r="8.2"/><circle cx="1480.05" cy="389.55" r="8.2"/><circle cx="1487.05" cy="389.55" r="8.2"/><circle cx="1476.55" cy="395.62" r="8.2"/><circle cx="1436.65" cy="413.86" r="8.2"/><circle cx="1444.65" cy="413.86" r="8.2"/><circle cx="1452.65" cy="413.86" r="8.2"/><circle cx="1460.65" cy="413.86" r="8.2"/><circle cx="1468.65" cy="413.86" r="8.2"/><circle cx="1440.65" cy="420.78" r="8.2"/><circle cx="1448.65" cy="420.78" r="8.2"/><circle cx="1456.65" cy="420.78" r="8.2"/><circle cx="1464.65" cy="420.78" r="8.2"/><circle cx="1428.65" cy="427.71" r="8.2"/><circle cx="1436.65" cy="427.71" r="8.2"/><circle cx="1444.65" cy="427.71" r="8.2"/><circle cx="1452.65" cy="427.71" r="8.2"/><circle cx="1460.65" cy="427.71" r="8.2"/><circle cx="1424.65" cy="434.64" r="8.2"/><circle cx="1432.65" cy="434.64" r="8.2"/><circle cx="1440.65" cy="434.64" r="8.2"/><circle cx="1448.65" cy="434.64" r="8.2"/><circle cx="1456.65" cy="434.64" r="8.2"/><circle cx="1395.15" cy="524.61" r="8.2"/><circle cx="1392.05" cy="543.86" r="8.2"/><circle cx="1388.05" cy="550.78" r="8.2"/><circle cx="1396.05" cy="550.78" r="8.2"/><circle cx="1392.05" cy="557.71" r="8.2"/></g>
</g>
<g fill="#262626" font-size="30.7"><text x="1371.10" y="729.60" text-anchor="middle">0</text><text x="1528.24" y="729.60" text-anchor="middle" textLength="52.3" lengthAdjust="spacingAndGlyphs">250</text><text x="1685.38" y="729.60" text-anchor="middle" textLength="52.3" lengthAdjust="spacingAndGlyphs">500</text><text x="1842.52" y="729.60" text-anchor="middle" textLength="52.3" lengthAdjust="spacingAndGlyphs">750</text><text x="1999.67" y="729.60" text-anchor="middle" textLength="69.75" lengthAdjust="spacingAndGlyphs">1000</text><text x="2156.81" y="729.60" text-anchor="middle" textLength="69.75" lengthAdjust="spacingAndGlyphs">1250</text><text x="2313.95" y="729.60" text-anchor="middle" textLength="69.75" lengthAdjust="spacingAndGlyphs">1500</text><text x="1313.20" y="679.50" text-anchor="end">0</text><text x="1313.20" y="593.48" text-anchor="end" textLength="52.3" lengthAdjust="spacingAndGlyphs">500</text><text x="1313.20" y="507.47" text-anchor="end" textLength="69.75" lengthAdjust="spacingAndGlyphs">1000</text><text x="1313.20" y="421.45" text-anchor="end" textLength="69.75" lengthAdjust="spacingAndGlyphs">1500</text><text x="1313.20" y="335.43" text-anchor="end" textLength="69.75" lengthAdjust="spacingAndGlyphs">2000</text><text x="1313.20" y="249.42" text-anchor="end" textLength="69.75" lengthAdjust="spacingAndGlyphs">2500</text><text x="1313.20" y="163.40" text-anchor="end" textLength="69.75" lengthAdjust="spacingAndGlyphs">3000</text><text x="1313.20" y="77.38" text-anchor="end" textLength="69.75" lengthAdjust="spacingAndGlyphs">3500</text></g>
<text x="1841.00" y="42.20" text-anchor="middle" font-size="30.6" fill="#262626" textLength="343" lengthAdjust="spacingAndGlyphs">channel=x1, geo=geo_b</text>
<text x="1841.00" y="770.10" text-anchor="middle" font-size="30.4" fill="#262626" textLength="238.5" lengthAdjust="spacingAndGlyphs">Channel Data (X)</text>
<text transform="translate(1227.05,379.90) rotate(-90)" x="0" y="0" text-anchor="middle" font-size="30.4" fill="#262626" textLength="343" lengthAdjust="spacingAndGlyphs">Channel Contribution (Y)</text>
</g>
<g id="ax3">
<rect x="139.0" y="844.1" width="1034.00" height="638.70" fill="#eeeeee"/>
<path d="M186.05 844.1V1482.8M343.19 844.1V1482.8M500.33 844.1V1482.8M657.48 844.1V1482.8M814.62 844.1V1482.8M971.76 844.1V1482.8M1128.90 844.1V1482.8M139.0 1454.00H1173.0M139.0 1356.83H1173.0M139.0 1259.67H1173.0M139.0 1162.50H1173.0M139.0 1065.33H1173.0M139.0 968.17H1173.0M139.0 871.00H1173.0" stroke="#ffffff" stroke-width="2.2" fill="none"/>
<g clip-path="url(#c3)">
<path d="M186.05,1454.00 L193.89,1437.09 L201.73,1420.25 L209.57,1403.54 L217.42,1387.03 L225.26,1370.77 L233.10,1354.83 L240.94,1339.25 L248.78,1324.09 L256.62,1309.38 L264.46,1295.16 L272.31,1281.47 L280.15,1268.31 L287.99,1255.71 L295.83,1243.69 L303.67,1232.24 L311.51,1221.38 L319.35,1211.09 L327.19,1201.37 L335.04,1192.21 L342.88,1183.59 L350.72,1175.51 L358.56,1167.93 L366.40,1160.84 L374.24,1154.23 L382.08,1148.06 L389.93,1142.33 L397.77,1136.99 L405.61,1132.04 L413.45,1127.45 L421.29,1123.19 L429.13,1119.26 L434.71,1116.44 L436.97,1114.60 L444.82,1108.23 L452.66,1101.85 L460.50,1095.48 L468.34,1089.11 L476.18,1082.73 L480.85,1078.94 L484.02,1076.86 L491.86,1071.73 L499.70,1066.61 L500.02,1066.40 L507.55,1055.11 L508.50,1053.67 L515.39,1049.60 L519.00,1047.45 L523.23,1045.49 L528.62,1042.99 L531.07,1041.85 L538.91,1038.21 L546.60,1034.65 L546.75,1034.58 L548.73,1033.66 L554.59,1031.19 L557.22,1030.08 L562.44,1027.88 L565.70,1026.50 L570.28,1024.57 L576.39,1022.00 L578.12,1020.97 L585.96,1016.30 L593.80,1011.63 L601.53,1007.03 L601.64,1006.99 L609.48,1003.98 L617.33,1000.96 L625.17,997.95 L633.01,994.94 L640.85,991.92 L641.76,991.57 L648.05,989.15 L648.69,988.91 L652.45,987.51 L656.53,985.99 L664.37,983.07 L672.21,980.14 L680.06,977.22 L687.90,974.30 L690.79,973.22 L695.74,971.53 L703.58,968.86 L711.42,966.19 L719.26,963.52 L727.10,960.85 L727.87,960.59 L734.95,962.34 L737.30,962.92 L742.79,961.64 L750.63,959.80 L758.47,957.97 L766.31,956.13 L774.15,954.30 L781.99,952.46 L783.82,952.04 L789.84,949.76 L794.50,947.99 L797.68,946.78 L803.30,944.65 L805.52,945.12 L813.36,946.79 L821.20,942.26 L822.79,941.35 L829.04,942.46 L832.59,943.10 L836.88,942.50 L844.73,941.41 L852.57,940.32 L860.41,939.23 L868.25,938.13 L876.09,937.04 L883.93,935.95 L891.77,934.86 L898.22,933.96 L899.61,934.45 L907.46,937.20 L907.64,937.27 L915.30,936.74 L923.14,936.19 L930.98,935.65 L938.82,935.10 L946.66,934.56 L954.50,934.02 L962.35,933.47 L970.19,932.93 L978.03,932.38 L985.87,931.84 L993.71,931.29 L1000.04,930.85 L1001.55,930.81 L1006.33,930.66 L1009.39,930.57 L1015.76,930.37 L1017.24,930.32 L1025.08,930.08 L1032.92,929.84 L1040.76,929.60 L1048.60,929.35 L1056.44,929.11 L1064.28,928.87 L1072.12,928.63 L1079.97,928.38 L1081.76,928.33 L1087.81,926.71 L1091.19,925.80 L1095.65,925.80 L1103.49,925.80 L1111.33,925.80 L1119.17,925.80 L1127.01,925.80 L1127.01,1146.76 L1119.17,1146.76 L1111.33,1146.76 L1103.49,1146.76 L1095.65,1146.76 L1091.19,1146.76 L1087.81,1147.39 L1081.76,1148.51 L1079.97,1148.51 L1072.12,1148.51 L1064.28,1148.51 L1056.44,1148.51 L1048.60,1148.51 L1040.76,1148.51 L1032.92,1148.51 L1025.08,1148.51 L1017.24,1148.51 L1015.76,1148.51 L1009.39,1147.33 L1006.33,1146.76 L1001.55,1146.75 L1000.04,1146.75 L993.71,1146.73 L985.87,1146.72 L978.03,1146.70 L970.19,1146.69 L962.35,1146.67 L954.50,1146.66 L946.66,1146.64 L938.82,1146.63 L930.98,1146.61 L923.14,1146.60 L915.30,1146.58 L907.64,1146.56 L907.46,1146.48 L899.61,1142.92 L898.22,1142.29 L891.77,1142.29 L883.93,1142.29 L876.09,1142.29 L868.25,1142.29 L860.41,1142.29 L852.57,1142.29 L844.73,1142.29 L836.88,1142.29 L832.59,1142.29 L829.04,1141.09 L822.79,1138.99 L821.20,1139.54 L813.36,1142.29 L805.52,1139.71 L803.30,1138.99 L797.68,1138.74 L794.50,1138.60 L789.84,1140.21 L783.82,1142.29 L781.99,1142.29 L774.15,1142.29 L766.31,1142.29 L758.47,1142.29 L750.63,1142.29 L742.79,1142.29 L737.30,1142.29 L734.95,1140.83 L727.87,1136.46 L727.10,1136.49 L719.26,1136.75 L711.42,1137.01 L703.58,1137.27 L695.74,1137.54 L690.79,1137.70 L687.90,1137.80 L680.06,1138.06 L672.21,1138.32 L664.37,1138.59 L656.53,1138.85 L652.45,1138.99 L648.69,1138.44 L648.05,1138.35 L641.76,1137.43 L640.85,1137.44 L633.01,1137.51 L625.17,1137.58 L617.33,1137.65 L609.48,1137.72 L601.64,1137.79 L601.53,1137.79 L593.80,1137.86 L585.96,1137.93 L578.12,1138.00 L576.39,1138.01 L570.28,1136.90 L565.70,1136.07 L562.44,1136.82 L557.22,1138.01 L554.59,1137.05 L548.73,1134.91 L546.75,1134.18 L546.60,1134.13 L538.91,1134.63 L531.07,1135.13 L528.62,1135.29 L523.23,1132.68 L519.00,1130.63 L515.39,1132.11 L508.50,1135.01 L507.55,1135.43 L500.02,1138.77 L499.70,1138.92 L491.86,1142.58 L484.02,1146.42 L480.85,1148.02 L476.18,1150.44 L468.34,1154.66 L460.50,1159.08 L452.66,1163.70 L444.82,1168.53 L436.97,1173.57 L434.71,1175.07 L429.13,1178.84 L421.29,1184.34 L413.45,1190.07 L405.61,1196.04 L397.77,1202.24 L389.93,1208.70 L382.08,1215.40 L374.24,1222.34 L366.40,1229.55 L358.56,1237.00 L350.72,1244.71 L342.88,1252.66 L335.04,1260.87 L327.19,1269.32 L319.35,1278.02 L311.51,1286.96 L303.67,1296.12 L295.83,1305.52 L287.99,1315.13 L280.15,1324.94 L272.31,1334.95 L264.46,1345.15 L256.62,1355.52 L248.78,1366.05 L240.94,1376.72 L233.10,1387.52 L225.26,1398.42 L217.42,1409.42 L209.57,1420.50 L201.73,1431.64 L193.89,1442.81 L186.05,1454.00Z" fill="#fa7c17" fill-opacity="0.25" stroke="#fa7c17" stroke-opacity="0.25" stroke-width="2.7" stroke-linejoin="round"/>
<polyline points="186.05,1454.00 193.89,1442.91 201.73,1431.83 209.57,1420.76 217.42,1409.72 225.26,1398.71 233.10,1387.73 240.94,1376.80 248.78,1365.93 256.62,1355.11 264.46,1344.36 272.31,1333.69 280.15,1323.10 287.99,1312.59 295.83,1302.18 303.67,1291.87 311.51,1281.66 319.35,1271.56 327.19,1261.58 335.04,1251.72 342.88,1241.98 350.72,1232.38 358.56,1222.90 366.40,1213.57 374.24,1204.37 382.08,1195.32 389.93,1186.42 397.77,1177.66 405.61,1169.06 413.45,1160.60 421.29,1152.31 429.13,1144.17 436.97,1136.19 444.82,1128.37 452.66,1120.70 460.50,1113.20 468.34,1105.85 476.18,1098.67 484.02,1091.64 491.86,1084.78 499.70,1078.07 507.55,1071.52 515.39,1065.12 523.23,1058.88 531.07,1052.80 538.91,1046.86 546.75,1041.08 554.59,1035.45 562.44,1029.96 570.28,1024.62 578.12,1019.42 585.96,1014.36 593.80,1009.44 601.64,1004.65 609.48,1000.00 617.33,995.48 625.17,991.10 633.01,986.83 640.85,982.69 648.69,978.67 656.53,974.77 664.37,970.99 672.21,967.32 680.06,963.76 687.90,960.31 695.74,956.97 703.58,953.73 711.42,950.59 719.26,947.55 727.10,944.60 734.95,941.75 742.79,938.99 750.63,936.31 758.47,933.73 766.31,931.22 774.15,928.80 781.99,926.45 789.84,924.19 797.68,922.00 805.52,919.88 813.36,917.83 821.20,915.84 829.04,913.93 836.88,912.08 844.73,910.29 852.57,908.56 860.41,906.89 868.25,905.28 876.09,903.72 883.93,902.21 891.77,900.76 899.61,899.36 907.46,898.00 915.30,896.69 923.14,895.43 930.98,894.21 938.82,893.03 946.66,891.90 954.50,890.80 962.35,889.74 970.19,888.72 978.03,887.74 985.87,886.79 993.71,885.87 1001.55,884.98 1009.39,884.13 1017.24,883.31 1025.08,882.51 1032.92,881.74 1040.76,881.01 1048.60,880.29 1056.44,879.61 1064.28,878.94 1072.12,878.30 1079.97,877.69 1087.81,877.09 1095.65,876.52 1103.49,875.97 1111.33,875.43 1119.17,874.92 1127.01,874.42" fill="none" stroke="#fa7c17" stroke-opacity="0.3" stroke-width="4.1" stroke-linecap="round" stroke-linejoin="round"/>
<polyline points="186.05,1454.00 193.89,1441.52 201.73,1429.07 209.57,1416.66 217.42,1404.31 225.26,1392.05 233.10,1379.90 240.94,1367.88 248.78,1355.99 256.62,1344.28 264.46,1332.74 272.31,1321.40 280.15,1310.27 287.99,1299.36 295.83,1288.69 303.67,1278.26 311.51,1268.10 319.35,1258.19 327.19,1248.55 335.04,1239.19 342.88,1230.11 350.72,1221.31 358.56,1212.80 366.40,1204.57 374.24,1196.63 382.08,1188.97 389.93,1181.59 397.77,1174.49 405.61,1167.67 413.45,1161.11 421.29,1154.82 429.13,1148.79 436.97,1143.02 444.82,1137.49 452.66,1132.21 460.50,1127.16 468.34,1122.34 476.18,1117.74 484.02,1113.35 491.86,1109.17 499.70,1105.18 507.55,1101.39 515.39,1097.78 523.23,1094.35 531.07,1091.09 538.91,1088.00 546.75,1085.06 554.59,1082.26 562.44,1079.61 570.28,1077.10 578.12,1074.72 585.96,1072.46 593.80,1070.32 601.64,1068.29 609.48,1066.38 617.33,1064.56 625.17,1062.84 633.01,1061.21 640.85,1059.67 648.69,1058.22 656.53,1056.84 664.37,1055.54 672.21,1054.31 680.06,1053.14 687.90,1052.05 695.74,1051.01 703.58,1050.03 711.42,1049.10 719.26,1048.23 727.10,1047.40 734.95,1046.62 742.79,1045.88 750.63,1045.19 758.47,1044.53 766.31,1043.91 774.15,1043.33 781.99,1042.78 789.84,1042.26 797.68,1041.76 805.52,1041.30 813.36,1040.86 821.20,1040.45 829.04,1040.06 836.88,1039.70 844.73,1039.35 852.57,1039.02 860.41,1038.72 868.25,1038.43 876.09,1038.15 883.93,1037.90 891.77,1037.65 899.61,1037.42 907.46,1037.21 915.30,1037.00 923.14,1036.81 930.98,1036.63 938.82,1036.46 946.66,1036.30 954.50,1036.15 962.35,1036.00 970.19,1035.87 978.03,1035.74 985.87,1035.62 993.71,1035.51 1001.55,1035.40 1009.39,1035.30 1017.24,1035.21 1025.08,1035.12 1032.92,1035.03 1040.76,1034.95 1048.60,1034.88 1056.44,1034.81 1064.28,1034.74 1072.12,1034.68 1079.97,1034.62 1087.81,1034.57 1095.65,1034.51 1103.49,1034.46 1111.33,1034.42 1119.17,1034.37 1127.01,1034.33" fill="none" stroke="#fa7c17" stroke-opacity="0.3" stroke-width="4.1" stroke-linecap="round" stroke-linejoin="round"/>
<polyline points="186.05,1454.00 193.89,1440.53 201.73,1427.08 209.57,1413.70 217.42,1400.39 225.26,1387.20 233.10,1374.15 240.94,1361.26 248.78,1348.55 256.62,1336.06 264.46,1323.79 272.31,1311.78 280.15,1300.03 287.99,1288.56 295.83,1277.38 303.67,1266.51 311.51,1255.96 319.35,1245.73 327.19,1235.83 335.04,1226.27 342.88,1217.04 350.72,1208.14 358.56,1199.59 366.40,1191.37 374.24,1183.48 382.08,1175.93 389.93,1168.69 397.77,1161.78 405.61,1155.17 413.45,1148.87 421.29,1142.86 429.13,1137.14 436.97,1131.70 444.82,1126.52 452.66,1121.61 460.50,1116.95 468.34,1112.52 476.18,1108.33 484.02,1104.36 491.86,1100.61 499.70,1097.05 507.55,1093.69 515.39,1090.52 523.23,1087.52 531.07,1084.69 538.91,1082.02 546.75,1079.50 554.59,1077.13 562.44,1074.89 570.28,1072.78 578.12,1070.79 585.96,1068.92 593.80,1067.17 601.64,1065.51 609.48,1063.95 617.33,1062.49 625.17,1061.11 633.01,1059.81 640.85,1058.60 648.69,1057.45 656.53,1056.38 664.37,1055.37 672.21,1054.42 680.06,1053.53 687.90,1052.70 695.74,1051.91 703.58,1051.18 711.42,1050.48 719.26,1049.84 727.10,1049.23 734.95,1048.66 742.79,1048.12 750.63,1047.62 758.47,1047.14 766.31,1046.70 774.15,1046.29 781.99,1045.90 789.84,1045.53 797.68,1045.19 805.52,1044.87 813.36,1044.57 821.20,1044.29 829.04,1044.02 836.88,1043.77 844.73,1043.54 852.57,1043.32 860.41,1043.12 868.25,1042.93 876.09,1042.75 883.93,1042.58 891.77,1042.42 899.61,1042.27 907.46,1042.14 915.30,1042.01 923.14,1041.88 930.98,1041.77 938.82,1041.66 946.66,1041.56 954.50,1041.47 962.35,1041.38 970.19,1041.30 978.03,1041.22 985.87,1041.15 993.71,1041.08 1001.55,1041.02 1009.39,1040.96 1017.24,1040.90 1025.08,1040.85 1032.92,1040.80 1040.76,1040.75 1048.60,1040.71 1056.44,1040.67 1064.28,1040.63 1072.12,1040.60 1079.97,1040.56 1087.81,1040.53 1095.65,1040.50 1103.49,1040.48 1111.33,1040.45 1119.17,1040.43 1127.01,1040.40" fill="none" stroke="#fa7c17" stroke-opacity="0.3" stroke-width="4.1" stroke-linecap="round" stroke-linejoin="round"/>
<polyline points="186.05,1454.00 193.89,1440.78 201.73,1427.59 209.57,1414.46 217.42,1401.41 225.26,1388.47 233.10,1375.67 240.94,1363.03 248.78,1350.57 256.62,1338.33 264.46,1326.31 272.31,1314.54 280.15,1303.04 287.99,1291.81 295.83,1280.88 303.67,1270.25 311.51,1259.93 319.35,1249.93 327.19,1240.26 335.04,1230.92 342.88,1221.92 350.72,1213.25 358.56,1204.91 366.40,1196.90 374.24,1189.22 382.08,1181.86 389.93,1174.83 397.77,1168.10 405.61,1161.68 413.45,1155.56 421.29,1149.73 429.13,1144.19 436.97,1138.91 444.82,1133.90 452.66,1129.14 460.50,1124.63 468.34,1120.35 476.18,1116.30 484.02,1112.47 491.86,1108.84 499.70,1105.41 507.55,1102.18 515.39,1099.12 523.23,1096.23 531.07,1093.51 538.91,1090.94 546.75,1088.52 554.59,1086.23 562.44,1084.09 570.28,1082.06 578.12,1080.16 585.96,1078.37 593.80,1076.68 601.64,1075.10 609.48,1073.61 617.33,1072.20 625.17,1070.89 633.01,1069.65 640.85,1068.49 648.69,1067.40 656.53,1066.37 664.37,1065.41 672.21,1064.51 680.06,1063.66 687.90,1062.87 695.74,1062.12 703.58,1061.42 711.42,1060.76 719.26,1060.15 727.10,1059.57 734.95,1059.03 742.79,1058.52 750.63,1058.04 758.47,1057.60 766.31,1057.18 774.15,1056.79 781.99,1056.42 789.84,1056.07 797.68,1055.75 805.52,1055.45 813.36,1055.16 821.20,1054.90 829.04,1054.65 836.88,1054.41 844.73,1054.19 852.57,1053.99 860.41,1053.80 868.25,1053.62 876.09,1053.45 883.93,1053.29 891.77,1053.14 899.61,1053.00 907.46,1052.87 915.30,1052.75 923.14,1052.64 930.98,1052.53 938.82,1052.43 946.66,1052.34 954.50,1052.25 962.35,1052.17 970.19,1052.09 978.03,1052.02 985.87,1051.95 993.71,1051.89 1001.55,1051.83 1009.39,1051.77 1017.24,1051.72 1025.08,1051.67 1032.92,1051.63 1040.76,1051.58 1048.60,1051.54 1056.44,1051.51 1064.28,1051.47 1072.12,1051.44 1079.97,1051.41 1087.81,1051.38 1095.65,1051.35 1103.49,1051.33 1111.33,1051.30 1119.17,1051.28 1127.01,1051.26" fill="none" stroke="#fa7c17" stroke-opacity="0.3" stroke-width="4.1" stroke-linecap="round" stroke-linejoin="round"/>
<polyline points="186.05,1454.00 193.89,1439.46 201.73,1424.96 209.57,1410.55 217.42,1396.26 225.26,1382.14 233.10,1368.24 240.94,1354.57 248.78,1341.18 256.62,1328.10 264.46,1315.35 272.31,1302.96 280.15,1290.94 287.99,1279.33 295.83,1268.12 303.67,1257.33 311.51,1246.97 319.35,1237.05 327.19,1227.55 335.04,1218.49 342.88,1209.85 350.72,1201.64 358.56,1193.84 366.40,1186.45 374.24,1179.46 382.08,1172.84 389.93,1166.60 397.77,1160.72 405.61,1155.18 413.45,1149.97 421.29,1145.08 429.13,1140.49 436.97,1136.18 444.82,1132.15 452.66,1128.37 460.50,1124.84 468.34,1121.54 476.18,1118.46 484.02,1115.58 491.86,1112.90 499.70,1110.40 507.55,1108.07 515.39,1105.90 523.23,1103.88 531.07,1102.00 538.91,1100.25 546.75,1098.62 554.59,1097.11 562.44,1095.70 570.28,1094.40 578.12,1093.19 585.96,1092.06 593.80,1091.02 601.64,1090.05 609.48,1089.15 617.33,1088.31 625.17,1087.54 633.01,1086.82 640.85,1086.15 648.69,1085.54 656.53,1084.96 664.37,1084.43 672.21,1083.94 680.06,1083.49 687.90,1083.06 695.74,1082.67 703.58,1082.31 711.42,1081.97 719.26,1081.66 727.10,1081.37 734.95,1081.11 742.79,1080.86 750.63,1080.63 758.47,1080.42 766.31,1080.22 774.15,1080.04 781.99,1079.87 789.84,1079.72 797.68,1079.57 805.52,1079.44 813.36,1079.31 821.20,1079.20 829.04,1079.09 836.88,1078.99 844.73,1078.90 852.57,1078.82 860.41,1078.74 868.25,1078.67 876.09,1078.60 883.93,1078.54 891.77,1078.48 899.61,1078.43 907.46,1078.38 915.30,1078.34 923.14,1078.29 930.98,1078.25 938.82,1078.22 946.66,1078.19 954.50,1078.15 962.35,1078.13 970.19,1078.10 978.03,1078.08 985.87,1078.05 993.71,1078.03 1001.55,1078.01 1009.39,1077.99 1017.24,1077.98 1025.08,1077.96 1032.92,1077.95 1040.76,1077.93 1048.60,1077.92 1056.44,1077.91 1064.28,1077.90 1072.12,1077.89 1079.97,1077.88 1087.81,1077.87 1095.65,1077.87 1103.49,1077.86 1111.33,1077.85 1119.17,1077.85 1127.01,1077.84" fill="none" stroke="#fa7c17" stroke-opacity="0.3" stroke-width="4.1" stroke-linecap="round" stroke-linejoin="round"/>
<polyline points="186.05,1454.00 193.89,1436.62 201.73,1419.32 209.57,1402.17 217.42,1385.25 225.26,1368.62 233.10,1352.35 240.94,1336.51 248.78,1321.13 256.62,1306.27 264.46,1291.97 272.31,1278.24 280.15,1265.13 287.99,1252.63 295.83,1240.77 303.67,1229.53 311.51,1218.93 319.35,1208.95 327.19,1199.57 335.04,1190.79 342.88,1182.59 350.72,1174.94 358.56,1167.81 366.40,1161.19 374.24,1155.06 382.08,1149.37 389.93,1144.11 397.77,1139.26 405.61,1134.78 413.45,1130.66 421.29,1126.86 429.13,1123.37 436.97,1120.17 444.82,1117.23 452.66,1114.53 460.50,1112.06 468.34,1109.79 476.18,1107.72 484.02,1105.82 491.86,1104.09 499.70,1102.51 507.55,1101.06 515.39,1099.74 523.23,1098.53 531.07,1097.43 538.91,1096.42 546.75,1095.50 554.59,1094.67 562.44,1093.91 570.28,1093.21 578.12,1092.58 585.96,1092.00 593.80,1091.47 601.64,1090.99 609.48,1090.56 617.33,1090.16 625.17,1089.80 633.01,1089.47 640.85,1089.17 648.69,1088.89 656.53,1088.65 664.37,1088.42 672.21,1088.21 680.06,1088.03 687.90,1087.85 695.74,1087.70 703.58,1087.56 711.42,1087.43 719.26,1087.31 727.10,1087.20 734.95,1087.11 742.79,1087.02 750.63,1086.94 758.47,1086.87 766.31,1086.80 774.15,1086.74 781.99,1086.68 789.84,1086.63 797.68,1086.59 805.52,1086.55 813.36,1086.51 821.20,1086.47 829.04,1086.44 836.88,1086.41 844.73,1086.39 852.57,1086.36 860.41,1086.34 868.25,1086.32 876.09,1086.31 883.93,1086.29 891.77,1086.28 899.61,1086.26 907.46,1086.25 915.30,1086.24 923.14,1086.23 930.98,1086.22 938.82,1086.21 946.66,1086.20 954.50,1086.20 962.35,1086.19 970.19,1086.18 978.03,1086.18 985.87,1086.17 993.71,1086.17 1001.55,1086.17 1009.39,1086.16 1017.24,1086.16 1025.08,1086.16 1032.92,1086.15 1040.76,1086.15 1048.60,1086.15 1056.44,1086.15 1064.28,1086.15 1072.12,1086.14 1079.97,1086.14 1087.81,1086.14 1095.65,1086.14 1103.49,1086.14 1111.33,1086.14 1119.17,1086.14 1127.01,1086.14" fill="none" stroke="#fa7c17" stroke-opacity="0.3" stroke-width="4.1" stroke-linecap="round" stroke-linejoin="round"/>
<polyline points="186.05,1454.00 193.89,1438.07 201.73,1422.20 209.57,1406.45 217.42,1390.88 225.26,1375.55 233.10,1360.51 240.94,1345.80 248.78,1331.48 256.62,1317.58 264.46,1304.13 272.31,1291.17 280.15,1278.70 287.99,1266.76 295.83,1255.35 303.67,1244.47 311.51,1234.14 319.35,1224.35 327.19,1215.08 335.04,1206.34 342.88,1198.11 350.72,1190.38 358.56,1183.13 366.40,1176.34 374.24,1169.99 382.08,1164.07 389.93,1158.55 397.77,1153.41 405.61,1148.63 413.45,1144.20 421.29,1140.09 429.13,1136.28 436.97,1132.75 444.82,1129.49 452.66,1126.48 460.50,1123.70 468.34,1121.13 476.18,1118.76 484.02,1116.58 491.86,1114.57 499.70,1112.71 507.55,1111.01 515.39,1109.44 523.23,1108.00 531.07,1106.68 538.91,1105.46 546.75,1104.34 554.59,1103.31 562.44,1102.37 570.28,1101.50 578.12,1100.71 585.96,1099.98 593.80,1099.31 601.64,1098.69 609.48,1098.13 617.33,1097.61 625.17,1097.14 633.01,1096.71 640.85,1096.31 648.69,1095.94 656.53,1095.61 664.37,1095.30 672.21,1095.02 680.06,1094.76 687.90,1094.53 695.74,1094.31 703.58,1094.11 711.42,1093.93 719.26,1093.77 727.10,1093.61 734.95,1093.48 742.79,1093.35 750.63,1093.23 758.47,1093.12 766.31,1093.03 774.15,1092.94 781.99,1092.85 789.84,1092.78 797.68,1092.71 805.52,1092.65 813.36,1092.59 821.20,1092.53 829.04,1092.49 836.88,1092.44 844.73,1092.40 852.57,1092.36 860.41,1092.33 868.25,1092.30 876.09,1092.27 883.93,1092.24 891.77,1092.22 899.61,1092.20 907.46,1092.18 915.30,1092.16 923.14,1092.14 930.98,1092.13 938.82,1092.11 946.66,1092.10 954.50,1092.09 962.35,1092.08 970.19,1092.07 978.03,1092.06 985.87,1092.05 993.71,1092.04 1001.55,1092.03 1009.39,1092.03 1017.24,1092.02 1025.08,1092.02 1032.92,1092.01 1040.76,1092.01 1048.60,1092.00 1056.44,1092.00 1064.28,1091.99 1072.12,1091.99 1079.97,1091.99 1087.81,1091.99 1095.65,1091.98 1103.49,1091.98 1111.33,1091.98 1119.17,1091.98 1127.01,1091.98" fill="none" stroke="#fa7c17" stroke-opacity="0.3" stroke-width="4.1" stroke-linecap="round" stroke-linejoin="round"/>
<polyline points="186.05,1454.00 193.89,1438.07 201.73,1422.20 209.57,1406.45 217.42,1390.88 225.26,1375.55 233.10,1360.51 240.94,1345.80 248.78,1331.48 256.62,1317.58 264.46,1304.13 272.31,1291.17 280.15,1278.70 287.99,1266.76 295.83,1255.35 303.67,1244.47 311.51,1234.14 319.35,1224.35 327.19,1215.08 335.04,1206.34 342.88,1198.11 350.72,1190.38 358.56,1183.13 366.40,1176.34 374.24,1169.99 382.08,1164.07 389.93,1158.55 397.77,1153.41 405.61,1148.63 413.45,1144.20 421.29,1140.09 429.13,1136.28 436.97,1132.75 444.82,1129.49 452.66,1126.48 460.50,1123.70 468.34,1121.13 476.18,1118.76 484.02,1116.58 491.86,1114.57 499.70,1112.71 507.55,1111.01 515.39,1109.44 523.23,1108.00 531.07,1106.68 538.91,1105.46 546.75,1104.34 554.59,1103.31 562.44,1102.37 570.28,1101.50 578.12,1100.71 585.96,1099.98 593.80,1099.31 601.64,1098.69 609.48,1098.13 617.33,1097.61 625.17,1097.14 633.01,1096.71 640.85,1096.31 648.69,1095.94 656.53,1095.61 664.37,1095.30 672.21,1095.02 680.06,1094.76 687.90,1094.53 695.74,1094.31 703.58,1094.11 711.42,1093.93 719.26,1093.77 727.10,1093.61 734.95,1093.48 742.79,1093.35 750.63,1093.23 758.47,1093.12 766.31,1093.03 774.15,1092.94 781.99,1092.85 789.84,1092.78 797.68,1092.71 805.52,1092.65 813.36,1092.59 821.20,1092.53 829.04,1092.49 836.88,1092.44 844.73,1092.40 852.57,1092.36 860.41,1092.33 868.25,1092.30 876.09,1092.27 883.93,1092.24 891.77,1092.22 899.61,1092.20 907.46,1092.18 915.30,1092.16 923.14,1092.14 930.98,1092.13 938.82,1092.11 946.66,1092.10 954.50,1092.09 962.35,1092.08 970.19,1092.07 978.03,1092.06 985.87,1092.05 993.71,1092.04 1001.55,1092.03 1009.39,1092.03 1017.24,1092.02 1025.08,1092.02 1032.92,1092.01 1040.76,1092.01 1048.60,1092.00 1056.44,1092.00 1064.28,1091.99 1072.12,1091.99 1079.97,1091.99 1087.81,1091.99 1095.65,1091.98 1103.49,1091.98 1111.33,1091.98 1119.17,1091.98 1127.01,1091.98" fill="none" stroke="#fa7c17" stroke-opacity="0.3" stroke-width="4.1" stroke-linecap="round" stroke-linejoin="round"/>
<polyline points="186.05,1454.00 193.89,1438.07 201.73,1422.20 209.57,1406.45 217.42,1390.88 225.26,1375.55 233.10,1360.51 240.94,1345.80 248.78,1331.48 256.62,1317.58 264.46,1304.13 272.31,1291.17 280.15,1278.70 287.99,1266.76 295.83,1255.35 303.67,1244.47 311.51,1234.14 319.35,1224.35 327.19,1215.08 335.04,1206.34 342.88,1198.11 350.72,1190.38 358.56,1183.13 366.40,1176.34 374.24,1169.99 382.08,1164.07 389.93,1158.55 397.77,1153.41 405.61,1148.63 413.45,1144.20 421.29,1140.09 429.13,1136.28 436.97,1132.75 444.82,1129.49 452.66,1126.48 460.50,1123.70 468.34,1121.13 476.18,1118.76 484.02,1116.58 491.86,1114.57 499.70,1112.71 507.55,1111.01 515.39,1109.44 523.23,1108.00 531.07,1106.68 538.91,1105.46 546.75,1104.34 554.59,1103.31 562.44,1102.37 570.28,1101.50 578.12,1100.71 585.96,1099.98 593.80,1099.31 601.64,1098.69 609.48,1098.13 617.33,1097.61 625.17,1097.14 633.01,1096.71 640.85,1096.31 648.69,1095.94 656.53,1095.61 664.37,1095.30 672.21,1095.02 680.06,1094.76 687.90,1094.53 695.74,1094.31 703.58,1094.11 711.42,1093.93 719.26,1093.77 727.10,1093.61 734.95,1093.48 742.79,1093.35 750.63,1093.23 758.47,1093.12 766.31,1093.03 774.15,1092.94 781.99,1092.85 789.84,1092.78 797.68,1092.71 805.52,1092.65 813.36,1092.59 821.20,1092.53 829.04,1092.49 836.88,1092.44 844.73,1092.40 852.57,1092.36 860.41,1092.33 868.25,1092.30 876.09,1092.27 883.93,1092.24 891.77,1092.22 899.61,1092.20 907.46,1092.18 915.30,1092.16 923.14,1092.14 930.98,1092.13 938.82,1092.11 946.66,1092.10 954.50,1092.09 962.35,1092.08 970.19,1092.07 978.03,1092.06 985.87,1092.05 993.71,1092.04 1001.55,1092.03 1009.39,1092.03 1017.24,1092.02 1025.08,1092.02 1032.92,1092.01 1040.76,1092.01 1048.60,1092.00 1056.44,1092.00 1064.28,1091.99 1072.12,1091.99 1079.97,1091.99 1087.81,1091.99 1095.65,1091.98 1103.49,1091.98 1111.33,1091.98 1119.17,1091.98 1127.01,1091.98" fill="none" stroke="#fa7c17" stroke-opacity="0.3" stroke-width="4.1" stroke-linecap="round" stroke-linejoin="round"/>
<polyline points="186.05,1454.00 193.89,1429.87 201.73,1406.04 209.57,1382.78 217.42,1360.36 225.26,1338.97 233.10,1318.81 240.94,1299.99 248.78,1282.59 256.62,1266.65 264.46,1252.17 272.31,1239.10 280.15,1227.39 287.99,1216.95 295.83,1207.71 303.67,1199.56 311.51,1192.40 319.35,1186.14 327.19,1180.68 335.04,1175.93 342.88,1171.81 350.72,1168.24 358.56,1165.15 366.40,1162.49 374.24,1160.20 382.08,1158.23 389.93,1156.53 397.77,1155.07 405.61,1153.82 413.45,1152.75 421.29,1151.83 429.13,1151.04 436.97,1150.37 444.82,1149.79 452.66,1149.29 460.50,1148.87 468.34,1148.51 476.18,1148.20 484.02,1147.93 491.86,1147.71 499.70,1147.51 507.55,1147.35 515.39,1147.20 523.23,1147.08 531.07,1146.98 538.91,1146.89 546.75,1146.82 554.59,1146.75 562.44,1146.70 570.28,1146.65 578.12,1146.61 585.96,1146.57 593.80,1146.54 601.64,1146.52 609.48,1146.50 617.33,1146.48 625.17,1146.46 633.01,1146.45 640.85,1146.44 648.69,1146.43 656.53,1146.42 664.37,1146.41 672.21,1146.41 680.06,1146.40 687.90,1146.40 695.74,1146.39 703.58,1146.39 711.42,1146.39 719.26,1146.38 727.10,1146.38 734.95,1146.38 742.79,1146.38 750.63,1146.38 758.47,1146.38 766.31,1146.38 774.15,1146.38 781.99,1146.37 789.84,1146.37 797.68,1146.37 805.52,1146.37 813.36,1146.37 821.20,1146.37 829.04,1146.37 836.88,1146.37 844.73,1146.37 852.57,1146.37 860.41,1146.37 868.25,1146.37 876.09,1146.37 883.93,1146.37 891.77,1146.37 899.61,1146.37 907.46,1146.37 915.30,1146.37 923.14,1146.37 930.98,1146.37 938.82,1146.37 946.66,1146.37 954.50,1146.37 962.35,1146.37 970.19,1146.37 978.03,1146.37 985.87,1146.37 993.71,1146.37 1001.55,1146.37 1009.39,1146.37 1017.24,1146.37 1025.08,1146.37 1032.92,1146.37 1040.76,1146.37 1048.60,1146.37 1056.44,1146.37 1064.28,1146.37 1072.12,1146.37 1079.97,1146.37 1087.81,1146.37 1095.65,1146.37 1103.49,1146.37 1111.33,1146.37 1119.17,1146.37 1127.01,1146.37" fill="none" stroke="#fa7c17" stroke-opacity="0.3" stroke-width="4.1" stroke-linecap="round" stroke-linejoin="round"/>
<g fill="#fa7c17" fill-opacity="0.95" stroke="#fa7c17" stroke-opacity="0.95" stroke-width="2.6"><circle cx="439.30" cy="1168.40" r="9.0"/><circle cx="443.92" cy="1165.56" r="9.0"/><circle cx="448.53" cy="1162.72" r="9.0"/><circle cx="453.15" cy="1159.88" r="9.0"/><circle cx="457.76" cy="1157.05" r="9.0"/><circle cx="462.38" cy="1154.21" r="9.0"/><circle cx="466.99" cy="1151.37" r="9.0"/><circle cx="471.61" cy="1148.53" r="9.0"/><circle cx="476.22" cy="1145.69" r="9.0"/><circle cx="480.84" cy="1142.85" r="9.0"/><circle cx="485.45" cy="1140.02" r="9.0"/><circle cx="490.07" cy="1137.18" r="9.0"/><circle cx="494.68" cy="1134.34" r="9.0"/><circle cx="499.30" cy="1131.50" r="9.0"/><circle cx="451.50" cy="1128.90" r="9.0"/><circle cx="456.20" cy="1126.48" r="9.0"/><circle cx="460.90" cy="1124.06" r="9.0"/><circle cx="465.60" cy="1121.64" r="9.0"/><circle cx="470.30" cy="1119.22" r="9.0"/><circle cx="475.00" cy="1116.80" r="9.0"/><circle cx="186.05" cy="1367.00" r="9.0"/><circle cx="186.05" cy="1371.00" r="9.0"/><circle cx="186.05" cy="1376.00" r="9.0"/><circle cx="186.05" cy="1380.00" r="9.0"/><circle cx="186.05" cy="1385.00" r="9.0"/><circle cx="186.05" cy="1391.00" r="9.0"/><circle cx="186.05" cy="1438.00" r="9.0"/><circle cx="186.05" cy="1443.00" r="9.0"/><circle cx="186.05" cy="1447.00" r="9.0"/><circle cx="186.05" cy="1451.00" r="9.0"/><circle cx="186.05" cy="1455.00" r="9.0"/><circle cx="439.30" cy="1168.40" r="9.0"/><circle cx="440.00" cy="1157.00" r="9.0"/><circle cx="451.50" cy="1163.30" r="9.0"/><circle cx="461.00" cy="1150.60" r="9.0"/><circle cx="473.80" cy="1142.90" r="9.0"/><circle cx="473.80" cy="1135.90" r="9.0"/><circle cx="486.50" cy="1141.00" r="9.0"/><circle cx="499.30" cy="1131.50" r="9.0"/><circle cx="451.50" cy="1128.90" r="9.0"/><circle cx="461.00" cy="1123.80" r="9.0"/><circle cx="475.00" cy="1116.80" r="9.0"/><circle cx="467.00" cy="1147.00" r="9.0"/><circle cx="492.00" cy="1136.00" r="9.0"/></g>
</g>
<g fill="#262626" font-size="30.7"><text x="186.05" y="1514.60" text-anchor="middle">0</text><text x="343.19" y="1514.60" text-anchor="middle" textLength="52.3" lengthAdjust="spacingAndGlyphs">250</text><text x="500.33" y="1514.60" text-anchor="middle" textLength="52.3" lengthAdjust="spacingAndGlyphs">500</text><text x="657.48" y="1514.60" text-anchor="middle" textLength="52.3" lengthAdjust="spacingAndGlyphs">750</text><text x="814.62" y="1514.60" text-anchor="middle" textLength="69.75" lengthAdjust="spacingAndGlyphs">1000</text><text x="971.76" y="1514.60" text-anchor="middle" textLength="69.75" lengthAdjust="spacingAndGlyphs">1250</text><text x="1128.90" y="1514.60" text-anchor="middle" textLength="69.75" lengthAdjust="spacingAndGlyphs">1500</text><text x="128.20" y="1464.50" text-anchor="end">0</text><text x="128.20" y="1367.33" text-anchor="end" textLength="52.3" lengthAdjust="spacingAndGlyphs">500</text><text x="128.20" y="1270.17" text-anchor="end" textLength="69.75" lengthAdjust="spacingAndGlyphs">1000</text><text x="128.20" y="1173.00" text-anchor="end" textLength="69.75" lengthAdjust="spacingAndGlyphs">1500</text><text x="128.20" y="1075.83" text-anchor="end" textLength="69.75" lengthAdjust="spacingAndGlyphs">2000</text><text x="128.20" y="978.67" text-anchor="end" textLength="69.75" lengthAdjust="spacingAndGlyphs">2500</text><text x="128.20" y="881.50" text-anchor="end" textLength="69.75" lengthAdjust="spacingAndGlyphs">3000</text></g>
<text x="656.00" y="827.20" text-anchor="middle" font-size="30.6" fill="#262626" textLength="343" lengthAdjust="spacingAndGlyphs">channel=x2, geo=geo_a</text>
<text x="656.00" y="1555.10" text-anchor="middle" font-size="30.4" fill="#262626" textLength="238.5" lengthAdjust="spacingAndGlyphs">Channel Data (X)</text>
<text transform="translate(42.00,1164.95) rotate(-90)" x="0" y="0" text-anchor="middle" font-size="30.4" fill="#262626" textLength="343" lengthAdjust="spacingAndGlyphs">Channel Contribution (Y)</text>
</g>
<g id="ax4">
<rect x="1324.0" y="844.1" width="1034.00" height="638.70" fill="#eeeeee"/>
<path d="M1371.10 844.1V1482.8M1528.24 844.1V1482.8M1685.38 844.1V1482.8M1842.52 844.1V1482.8M1999.67 844.1V1482.8M2156.81 844.1V1482.8M2313.95 844.1V1482.8M1324.0 1453.90H2358.0M1324.0 1373.00H2358.0M1324.0 1292.10H2358.0M1324.0 1211.20H2358.0M1324.0 1130.30H2358.0M1324.0 1049.40H2358.0M1324.0 968.50H2358.0M1324.0 887.60H2358.0" stroke="#ffffff" stroke-width="2.2" fill="none"/>
<g clip-path="url(#c4)">
<path d="M1371.10,1453.90 L1378.94,1440.36 L1386.78,1426.87 L1394.62,1413.46 L1402.47,1400.18 L1410.31,1387.06 L1418.15,1374.15 L1425.99,1361.48 L1433.83,1349.08 L1441.67,1336.99 L1449.51,1325.22 L1457.36,1313.80 L1465.20,1302.75 L1473.04,1292.09 L1480.88,1281.83 L1488.72,1271.97 L1496.56,1262.53 L1504.40,1253.50 L1512.24,1244.89 L1520.09,1236.69 L1527.93,1228.90 L1535.77,1221.51 L1543.61,1214.52 L1551.45,1207.90 L1559.29,1201.66 L1567.13,1195.78 L1574.98,1190.25 L1582.82,1185.04 L1590.66,1180.16 L1598.50,1175.58 L1606.34,1171.29 L1614.18,1167.28 L1622.02,1163.53 L1629.87,1160.03 L1637.71,1156.76 L1640.00,1155.86 L1645.55,1151.84 L1653.39,1146.16 L1661.23,1140.48 L1663.89,1138.55 L1669.07,1133.84 L1675.83,1127.71 L1676.91,1126.95 L1684.75,1121.42 L1692.60,1115.89 L1694.18,1114.77 L1696.38,1113.63 L1700.44,1111.55 L1704.87,1109.27 L1708.28,1107.96 L1713.67,1105.89 L1716.12,1104.95 L1723.96,1101.95 L1731.02,1099.24 L1731.80,1098.94 L1733.15,1098.43 L1739.64,1095.52 L1741.89,1094.51 L1747.49,1092.00 L1752.64,1089.69 L1755.33,1088.49 L1763.17,1084.99 L1763.58,1084.81 L1771.01,1081.49 L1774.39,1079.98 L1778.85,1078.44 L1786.69,1075.73 L1794.53,1073.02 L1802.38,1070.31 L1810.22,1067.60 L1818.06,1064.89 L1825.90,1062.18 L1826.50,1061.98 L1830.58,1060.56 L1833.74,1059.62 L1837.37,1058.54 L1841.58,1057.29 L1849.42,1054.95 L1857.26,1052.61 L1865.11,1050.27 L1872.95,1047.94 L1878.35,1046.33 L1880.79,1045.63 L1888.63,1043.37 L1896.47,1041.11 L1904.31,1038.86 L1912.11,1036.62 L1912.15,1036.63 L1913.24,1036.87 L1920.00,1038.34 L1921.72,1038.72 L1927.84,1037.48 L1935.68,1035.89 L1943.52,1034.29 L1951.36,1032.70 L1959.20,1031.10 L1967.04,1029.51 L1969.50,1029.01 L1974.89,1026.34 L1978.30,1024.64 L1982.73,1024.24 L1988.98,1023.67 L1990.57,1023.91 L1998.41,1025.07 L1998.79,1025.13 L2006.25,1020.40 L2007.21,1019.79 L2014.09,1021.23 L2017.27,1021.89 L2021.93,1021.31 L2029.78,1020.34 L2037.62,1019.36 L2045.46,1018.39 L2053.30,1017.41 L2061.14,1016.44 L2068.98,1015.46 L2076.82,1014.49 L2082.32,1013.80 L2084.66,1014.49 L2092.51,1016.80 L2093.32,1017.04 L2100.35,1016.55 L2108.19,1016.01 L2116.03,1015.46 L2123.87,1014.91 L2131.71,1014.37 L2139.55,1013.82 L2139.84,1013.80 L2147.40,1013.51 L2155.24,1013.20 L2163.08,1012.89 L2170.92,1012.58 L2178.76,1012.27 L2186.60,1011.96 L2194.44,1011.65 L2202.29,1011.34 L2210.13,1011.03 L2217.97,1010.72 L2225.81,1010.41 L2233.65,1010.10 L2241.49,1009.79 L2249.33,1009.48 L2257.17,1009.17 L2265.02,1008.86 L2272.86,1008.56 L2280.70,1008.25 L2288.54,1007.94 L2296.38,1007.63 L2304.22,1007.32 L2312.06,1007.01 L2312.06,1194.70 L2304.22,1194.66 L2296.38,1194.63 L2288.54,1194.59 L2280.70,1194.56 L2272.86,1194.52 L2265.02,1194.49 L2257.17,1194.45 L2249.33,1194.42 L2241.49,1194.38 L2233.65,1194.35 L2225.81,1194.31 L2217.97,1194.28 L2210.13,1194.24 L2202.29,1194.21 L2194.44,1194.17 L2186.60,1194.14 L2178.76,1194.10 L2170.92,1194.07 L2163.08,1194.04 L2155.24,1194.00 L2147.40,1193.97 L2139.84,1193.93 L2139.55,1193.93 L2131.71,1193.90 L2123.87,1193.86 L2116.03,1193.83 L2108.19,1193.79 L2100.35,1193.76 L2093.32,1193.73 L2092.51,1193.41 L2084.66,1190.41 L2082.32,1189.52 L2076.82,1189.52 L2068.98,1189.52 L2061.14,1189.52 L2053.30,1189.52 L2045.46,1189.52 L2037.62,1189.52 L2029.78,1189.52 L2021.93,1189.52 L2017.27,1189.52 L2014.09,1188.60 L2007.21,1186.61 L2006.25,1186.94 L1998.79,1189.52 L1998.41,1189.41 L1990.57,1187.08 L1988.98,1186.61 L1982.73,1186.61 L1978.30,1186.61 L1974.89,1187.73 L1969.50,1189.52 L1967.04,1189.52 L1959.20,1189.52 L1951.36,1189.52 L1943.52,1189.52 L1935.68,1189.52 L1927.84,1189.52 L1921.72,1189.52 L1920.00,1188.50 L1913.24,1184.50 L1912.15,1184.54 L1912.11,1184.54 L1904.31,1184.83 L1896.47,1185.11 L1888.63,1185.40 L1880.79,1185.68 L1878.35,1185.77 L1872.95,1185.96 L1865.11,1186.25 L1857.26,1186.53 L1849.42,1186.82 L1841.58,1187.10 L1837.37,1187.25 L1833.74,1186.77 L1830.58,1186.34 L1826.50,1185.80 L1825.90,1185.80 L1818.06,1185.86 L1810.22,1185.92 L1802.38,1185.98 L1794.53,1186.04 L1786.69,1186.10 L1778.85,1186.16 L1774.39,1186.20 L1771.01,1186.23 L1763.58,1186.28 L1763.17,1186.22 L1755.33,1184.94 L1752.64,1184.50 L1747.49,1185.36 L1741.89,1186.28 L1739.64,1185.75 L1733.15,1184.20 L1731.80,1183.88 L1731.02,1183.69 L1723.96,1183.83 L1716.12,1183.97 L1713.67,1184.02 L1708.28,1182.73 L1704.87,1181.91 L1700.44,1180.73 L1696.38,1179.65 L1694.18,1180.86 L1692.60,1181.53 L1684.75,1184.92 L1676.91,1188.45 L1675.83,1188.95 L1669.07,1192.14 L1663.89,1194.66 L1661.23,1195.97 L1653.39,1199.97 L1645.55,1204.12 L1640.00,1207.16 L1637.71,1208.44 L1629.87,1212.92 L1622.02,1217.58 L1614.18,1222.41 L1606.34,1227.42 L1598.50,1232.61 L1590.66,1237.98 L1582.82,1243.53 L1574.98,1249.27 L1567.13,1255.19 L1559.29,1261.30 L1551.45,1267.60 L1543.61,1274.07 L1535.77,1280.74 L1527.93,1287.58 L1520.09,1294.61 L1512.24,1301.80 L1504.40,1309.18 L1496.56,1316.72 L1488.72,1324.42 L1480.88,1332.28 L1473.04,1340.29 L1465.20,1348.44 L1457.36,1356.72 L1449.51,1365.13 L1441.67,1373.66 L1433.83,1382.30 L1425.99,1391.03 L1418.15,1399.85 L1410.31,1408.74 L1402.47,1417.70 L1394.62,1426.70 L1386.78,1435.75 L1378.94,1444.82 L1371.10,1453.90Z" fill="#fa7c17" fill-opacity="0.25" stroke="#fa7c17" stroke-opacity="0.25" stroke-width="2.7" stroke-linejoin="round"/>
<polyline points="1371.10,1453.90 1378.94,1444.11 1386.78,1434.32 1394.62,1424.54 1402.47,1414.77 1410.31,1405.03 1418.15,1395.31 1425.99,1385.63 1433.83,1375.97 1441.67,1366.36 1449.51,1356.80 1457.36,1347.28 1465.20,1337.82 1473.04,1328.41 1480.88,1319.07 1488.72,1309.80 1496.56,1300.60 1504.40,1291.47 1512.24,1282.43 1520.09,1273.46 1527.93,1264.59 1535.77,1255.80 1543.61,1247.10 1551.45,1238.50 1559.29,1230.00 1567.13,1221.61 1574.98,1213.31 1582.82,1205.13 1590.66,1197.05 1598.50,1189.08 1606.34,1181.22 1614.18,1173.48 1622.02,1165.85 1629.87,1158.35 1637.71,1150.96 1645.55,1143.68 1653.39,1136.53 1661.23,1129.50 1669.07,1122.59 1676.91,1115.81 1684.75,1109.14 1692.60,1102.60 1700.44,1096.18 1708.28,1089.88 1716.12,1083.70 1723.96,1077.65 1731.80,1071.71 1739.64,1065.90 1747.49,1060.21 1755.33,1054.63 1763.17,1049.18 1771.01,1043.84 1778.85,1038.62 1786.69,1033.51 1794.53,1028.51 1802.38,1023.63 1810.22,1018.86 1818.06,1014.21 1825.90,1009.66 1833.74,1005.21 1841.58,1000.88 1849.42,996.64 1857.26,992.51 1865.11,988.48 1872.95,984.55 1880.79,980.72 1888.63,976.99 1896.47,973.34 1904.31,969.80 1912.15,966.34 1920.00,962.97 1927.84,959.69 1935.68,956.49 1943.52,953.38 1951.36,950.36 1959.20,947.41 1967.04,944.54 1974.89,941.75 1982.73,939.03 1990.57,936.39 1998.41,933.82 2006.25,931.33 2014.09,928.90 2021.93,926.54 2029.78,924.24 2037.62,922.01 2045.46,919.84 2053.30,917.74 2061.14,915.69 2068.98,913.70 2076.82,911.77 2084.66,909.89 2092.51,908.07 2100.35,906.30 2108.19,904.58 2116.03,902.91 2123.87,901.29 2131.71,899.72 2139.55,898.19 2147.40,896.71 2155.24,895.27 2163.08,893.88 2170.92,892.53 2178.76,891.21 2186.60,889.94 2194.44,888.70 2202.29,887.50 2210.13,886.34 2217.97,885.21 2225.81,884.11 2233.65,883.05 2241.49,882.02 2249.33,881.02 2257.17,880.05 2265.02,879.11 2272.86,878.20 2280.70,877.32 2288.54,876.47 2296.38,875.64 2304.22,874.83 2312.06,874.05" fill="none" stroke="#fa7c17" stroke-opacity="0.3" stroke-width="4.1" stroke-linecap="round" stroke-linejoin="round"/>
<polyline points="1371.10,1453.90 1378.94,1444.70 1386.78,1435.50 1394.62,1426.31 1402.47,1417.13 1410.31,1407.97 1418.15,1398.84 1425.99,1389.73 1433.83,1380.65 1441.67,1371.60 1449.51,1362.60 1457.36,1353.64 1465.20,1344.72 1473.04,1335.86 1480.88,1327.05 1488.72,1318.30 1496.56,1309.62 1504.40,1300.99 1512.24,1292.44 1520.09,1283.96 1527.93,1275.56 1535.77,1267.24 1543.61,1259.00 1551.45,1250.84 1559.29,1242.77 1567.13,1234.79 1574.98,1226.90 1582.82,1219.10 1590.66,1211.40 1598.50,1203.80 1606.34,1196.30 1614.18,1188.90 1622.02,1181.60 1629.87,1174.41 1637.71,1167.32 1645.55,1160.34 1653.39,1153.47 1661.23,1146.70 1669.07,1140.04 1676.91,1133.50 1684.75,1127.06 1692.60,1120.73 1700.44,1114.52 1708.28,1108.41 1716.12,1102.42 1723.96,1096.53 1731.80,1090.76 1739.64,1085.09 1747.49,1079.53 1755.33,1074.09 1763.17,1068.75 1771.01,1063.52 1778.85,1058.39 1786.69,1053.37 1794.53,1048.46 1802.38,1043.65 1810.22,1038.94 1818.06,1034.34 1825.90,1029.84 1833.74,1025.43 1841.58,1021.13 1849.42,1016.92 1857.26,1012.81 1865.11,1008.79 1872.95,1004.87 1880.79,1001.04 1888.63,997.30 1896.47,993.64 1904.31,990.08 1912.15,986.60 1920.00,983.21 1927.84,979.90 1935.68,976.67 1943.52,973.52 1951.36,970.46 1959.20,967.47 1967.04,964.55 1974.89,961.71 1982.73,958.94 1990.57,956.24 1998.41,953.62 2006.25,951.06 2014.09,948.57 2021.93,946.14 2029.78,943.78 2037.62,941.48 2045.46,939.25 2053.30,937.07 2061.14,934.95 2068.98,932.89 2076.82,930.89 2084.66,928.94 2092.51,927.04 2100.35,925.19 2108.19,923.40 2116.03,921.66 2123.87,919.96 2131.71,918.31 2139.55,916.71 2147.40,915.15 2155.24,913.64 2163.08,912.16 2170.92,910.73 2178.76,909.34 2186.60,907.99 2194.44,906.68 2202.29,905.41 2210.13,904.17 2217.97,902.97 2225.81,901.80 2233.65,900.66 2241.49,899.56 2249.33,898.49 2257.17,897.45 2265.02,896.44 2272.86,895.46 2280.70,894.51 2288.54,893.59 2296.38,892.69 2304.22,891.82 2312.06,890.98" fill="none" stroke="#fa7c17" stroke-opacity="0.3" stroke-width="4.1" stroke-linecap="round" stroke-linejoin="round"/>
<polyline points="1371.10,1453.90 1378.94,1443.54 1386.78,1433.19 1394.62,1422.86 1402.47,1412.57 1410.31,1402.33 1418.15,1392.15 1425.99,1382.03 1433.83,1372.00 1441.67,1362.05 1449.51,1352.21 1457.36,1342.47 1465.20,1332.86 1473.04,1323.37 1480.88,1314.02 1488.72,1304.82 1496.56,1295.76 1504.40,1286.86 1512.24,1278.13 1520.09,1269.56 1527.93,1261.16 1535.77,1252.95 1543.61,1244.91 1551.45,1237.06 1559.29,1229.39 1567.13,1221.91 1574.98,1214.62 1582.82,1207.53 1590.66,1200.62 1598.50,1193.90 1606.34,1187.38 1614.18,1181.04 1622.02,1174.90 1629.87,1168.94 1637.71,1163.16 1645.55,1157.57 1653.39,1152.16 1661.23,1146.92 1669.07,1141.86 1676.91,1136.98 1684.75,1132.26 1692.60,1127.70 1700.44,1123.31 1708.28,1119.08 1716.12,1115.00 1723.96,1111.07 1731.80,1107.28 1739.64,1103.64 1747.49,1100.14 1755.33,1096.77 1763.17,1093.53 1771.01,1090.42 1778.85,1087.43 1786.69,1084.57 1794.53,1081.81 1802.38,1079.17 1810.22,1076.63 1818.06,1074.20 1825.90,1071.87 1833.74,1069.63 1841.58,1067.49 1849.42,1065.44 1857.26,1063.47 1865.11,1061.59 1872.95,1059.79 1880.79,1058.06 1888.63,1056.41 1896.47,1054.83 1904.31,1053.31 1912.15,1051.87 1920.00,1050.48 1927.84,1049.16 1935.68,1047.89 1943.52,1046.69 1951.36,1045.53 1959.20,1044.42 1967.04,1043.37 1974.89,1042.36 1982.73,1041.39 1990.57,1040.47 1998.41,1039.59 2006.25,1038.75 2014.09,1037.95 2021.93,1037.18 2029.78,1036.45 2037.62,1035.75 2045.46,1035.08 2053.30,1034.44 2061.14,1033.84 2068.98,1033.26 2076.82,1032.70 2084.66,1032.17 2092.51,1031.67 2100.35,1031.19 2108.19,1030.73 2116.03,1030.29 2123.87,1029.87 2131.71,1029.47 2139.55,1029.09 2147.40,1028.72 2155.24,1028.38 2163.08,1028.05 2170.92,1027.73 2178.76,1027.43 2186.60,1027.14 2194.44,1026.87 2202.29,1026.61 2210.13,1026.36 2217.97,1026.12 2225.81,1025.89 2233.65,1025.68 2241.49,1025.47 2249.33,1025.27 2257.17,1025.09 2265.02,1024.91 2272.86,1024.74 2280.70,1024.57 2288.54,1024.42 2296.38,1024.27 2304.22,1024.13 2312.06,1024.00" fill="none" stroke="#fa7c17" stroke-opacity="0.3" stroke-width="4.1" stroke-linecap="round" stroke-linejoin="round"/>
<polyline points="1371.10,1453.90 1378.94,1442.91 1386.78,1431.93 1394.62,1420.99 1402.47,1410.09 1410.31,1399.27 1418.15,1388.52 1425.99,1377.87 1433.83,1367.33 1441.67,1356.92 1449.51,1346.65 1457.36,1336.52 1465.20,1326.56 1473.04,1316.78 1480.88,1307.17 1488.72,1297.76 1496.56,1288.55 1504.40,1279.55 1512.24,1270.77 1520.09,1262.20 1527.93,1253.86 1535.77,1245.74 1543.61,1237.86 1551.45,1230.20 1559.29,1222.78 1567.13,1215.60 1574.98,1208.64 1582.82,1201.92 1590.66,1195.43 1598.50,1189.16 1606.34,1183.12 1614.18,1177.31 1622.02,1171.71 1629.87,1166.32 1637.71,1161.15 1645.55,1156.18 1653.39,1151.41 1661.23,1146.84 1669.07,1142.45 1676.91,1138.25 1684.75,1134.23 1692.60,1130.39 1700.44,1126.71 1708.28,1123.19 1716.12,1119.84 1723.96,1116.63 1731.80,1113.57 1739.64,1110.65 1747.49,1107.86 1755.33,1105.21 1763.17,1102.68 1771.01,1100.27 1778.85,1097.97 1786.69,1095.79 1794.53,1093.71 1802.38,1091.73 1810.22,1089.85 1818.06,1088.06 1825.90,1086.36 1833.74,1084.75 1841.58,1083.21 1849.42,1081.75 1857.26,1080.36 1865.11,1079.05 1872.95,1077.80 1880.79,1076.61 1888.63,1075.48 1896.47,1074.41 1904.31,1073.40 1912.15,1072.44 1920.00,1071.53 1927.84,1070.66 1935.68,1069.84 1943.52,1069.06 1951.36,1068.32 1959.20,1067.62 1967.04,1066.96 1974.89,1066.33 1982.73,1065.73 1990.57,1065.17 1998.41,1064.63 2006.25,1064.12 2014.09,1063.64 2021.93,1063.19 2029.78,1062.76 2037.62,1062.35 2045.46,1061.96 2053.30,1061.59 2061.14,1061.25 2068.98,1060.92 2076.82,1060.60 2084.66,1060.31 2092.51,1060.03 2100.35,1059.76 2108.19,1059.51 2116.03,1059.28 2123.87,1059.05 2131.71,1058.84 2139.55,1058.64 2147.40,1058.45 2155.24,1058.26 2163.08,1058.09 2170.92,1057.93 2178.76,1057.78 2186.60,1057.63 2194.44,1057.50 2202.29,1057.37 2210.13,1057.24 2217.97,1057.13 2225.81,1057.02 2233.65,1056.91 2241.49,1056.81 2249.33,1056.72 2257.17,1056.63 2265.02,1056.55 2272.86,1056.47 2280.70,1056.39 2288.54,1056.32 2296.38,1056.25 2304.22,1056.19 2312.06,1056.13" fill="none" stroke="#fa7c17" stroke-opacity="0.3" stroke-width="4.1" stroke-linecap="round" stroke-linejoin="round"/>
<polyline points="1371.10,1453.90 1378.94,1442.08 1386.78,1430.28 1394.62,1418.54 1402.47,1406.87 1410.31,1395.30 1418.15,1383.86 1425.99,1372.56 1433.83,1361.43 1441.67,1350.50 1449.51,1339.76 1457.36,1329.26 1465.20,1318.99 1473.04,1308.97 1480.88,1299.22 1488.72,1289.74 1496.56,1280.55 1504.40,1271.65 1512.24,1263.04 1520.09,1254.73 1527.93,1246.72 1535.77,1239.01 1543.61,1231.60 1551.45,1224.49 1559.29,1217.67 1567.13,1211.15 1574.98,1204.91 1582.82,1198.95 1590.66,1193.27 1598.50,1187.85 1606.34,1182.69 1614.18,1177.79 1622.02,1173.13 1629.87,1168.70 1637.71,1164.50 1645.55,1160.53 1653.39,1156.76 1661.23,1153.19 1669.07,1149.81 1676.91,1146.62 1684.75,1143.61 1692.60,1140.76 1700.44,1138.08 1708.28,1135.54 1716.12,1133.15 1723.96,1130.90 1731.80,1128.78 1739.64,1126.78 1747.49,1124.90 1755.33,1123.13 1763.17,1121.47 1771.01,1119.90 1778.85,1118.43 1786.69,1117.05 1794.53,1115.75 1802.38,1114.53 1810.22,1113.38 1818.06,1112.30 1825.90,1111.29 1833.74,1110.34 1841.58,1109.45 1849.42,1108.62 1857.26,1107.83 1865.11,1107.10 1872.95,1106.41 1880.79,1105.76 1888.63,1105.15 1896.47,1104.59 1904.31,1104.05 1912.15,1103.55 1920.00,1103.08 1927.84,1102.65 1935.68,1102.23 1943.52,1101.85 1951.36,1101.49 1959.20,1101.15 1967.04,1100.83 1974.89,1100.53 1982.73,1100.26 1990.57,1100.00 1998.41,1099.75 2006.25,1099.52 2014.09,1099.31 2021.93,1099.11 2029.78,1098.92 2037.62,1098.74 2045.46,1098.58 2053.30,1098.43 2061.14,1098.28 2068.98,1098.15 2076.82,1098.02 2084.66,1097.90 2092.51,1097.79 2100.35,1097.69 2108.19,1097.59 2116.03,1097.50 2123.87,1097.41 2131.71,1097.33 2139.55,1097.26 2147.40,1097.19 2155.24,1097.12 2163.08,1097.06 2170.92,1097.00 2178.76,1096.95 2186.60,1096.90 2194.44,1096.85 2202.29,1096.81 2210.13,1096.77 2217.97,1096.73 2225.81,1096.69 2233.65,1096.66 2241.49,1096.62 2249.33,1096.60 2257.17,1096.57 2265.02,1096.54 2272.86,1096.52 2280.70,1096.49 2288.54,1096.47 2296.38,1096.45 2304.22,1096.43 2312.06,1096.42" fill="none" stroke="#fa7c17" stroke-opacity="0.3" stroke-width="4.1" stroke-linecap="round" stroke-linejoin="round"/>
<polyline points="1371.10,1453.90 1378.94,1442.08 1386.78,1430.28 1394.62,1418.54 1402.47,1406.87 1410.31,1395.30 1418.15,1383.86 1425.99,1372.56 1433.83,1361.43 1441.67,1350.50 1449.51,1339.76 1457.36,1329.26 1465.20,1318.99 1473.04,1308.97 1480.88,1299.22 1488.72,1289.74 1496.56,1280.55 1504.40,1271.65 1512.24,1263.04 1520.09,1254.73 1527.93,1246.72 1535.77,1239.01 1543.61,1231.60 1551.45,1224.49 1559.29,1217.67 1567.13,1211.15 1574.98,1204.91 1582.82,1198.95 1590.66,1193.27 1598.50,1187.85 1606.34,1182.69 1614.18,1177.79 1622.02,1173.13 1629.87,1168.70 1637.71,1164.50 1645.55,1160.53 1653.39,1156.76 1661.23,1153.19 1669.07,1149.81 1676.91,1146.62 1684.75,1143.61 1692.60,1140.76 1700.44,1138.08 1708.28,1135.54 1716.12,1133.15 1723.96,1130.90 1731.80,1128.78 1739.64,1126.78 1747.49,1124.90 1755.33,1123.13 1763.17,1121.47 1771.01,1119.90 1778.85,1118.43 1786.69,1117.05 1794.53,1115.75 1802.38,1114.53 1810.22,1113.38 1818.06,1112.30 1825.90,1111.29 1833.74,1110.34 1841.58,1109.45 1849.42,1108.62 1857.26,1107.83 1865.11,1107.10 1872.95,1106.41 1880.79,1105.76 1888.63,1105.15 1896.47,1104.59 1904.31,1104.05 1912.15,1103.55 1920.00,1103.08 1927.84,1102.65 1935.68,1102.23 1943.52,1101.85 1951.36,1101.49 1959.20,1101.15 1967.04,1100.83 1974.89,1100.53 1982.73,1100.26 1990.57,1100.00 1998.41,1099.75 2006.25,1099.52 2014.09,1099.31 2021.93,1099.11 2029.78,1098.92 2037.62,1098.74 2045.46,1098.58 2053.30,1098.43 2061.14,1098.28 2068.98,1098.15 2076.82,1098.02 2084.66,1097.90 2092.51,1097.79 2100.35,1097.69 2108.19,1097.59 2116.03,1097.50 2123.87,1097.41 2131.71,1097.33 2139.55,1097.26 2147.40,1097.19 2155.24,1097.12 2163.08,1097.06 2170.92,1097.00 2178.76,1096.95 2186.60,1096.90 2194.44,1096.85 2202.29,1096.81 2210.13,1096.77 2217.97,1096.73 2225.81,1096.69 2233.65,1096.66 2241.49,1096.62 2249.33,1096.60 2257.17,1096.57 2265.02,1096.54 2272.86,1096.52 2280.70,1096.49 2288.54,1096.47 2296.38,1096.45 2304.22,1096.43 2312.06,1096.42" fill="none" stroke="#fa7c17" stroke-opacity="0.3" stroke-width="4.1" stroke-linecap="round" stroke-linejoin="round"/>
<polyline points="1371.10,1453.90 1378.94,1441.37 1386.78,1428.88 1394.62,1416.45 1402.47,1404.12 1410.31,1391.91 1418.15,1379.86 1425.99,1368.00 1433.83,1356.35 1441.67,1344.93 1449.51,1333.77 1457.36,1322.89 1465.20,1312.30 1473.04,1302.02 1480.88,1292.05 1488.72,1282.42 1496.56,1273.13 1504.40,1264.19 1512.24,1255.59 1520.09,1247.34 1527.93,1239.43 1535.77,1231.88 1543.61,1224.66 1551.45,1217.79 1559.29,1211.24 1567.13,1205.02 1574.98,1199.11 1582.82,1193.51 1590.66,1188.20 1598.50,1183.19 1606.34,1178.44 1614.18,1173.97 1622.02,1169.74 1629.87,1165.76 1637.71,1162.02 1645.55,1158.49 1653.39,1155.17 1661.23,1152.06 1669.07,1149.14 1676.91,1146.39 1684.75,1143.82 1692.60,1141.41 1700.44,1139.15 1708.28,1137.03 1716.12,1135.05 1723.96,1133.20 1731.80,1131.47 1739.64,1129.85 1747.49,1128.33 1755.33,1126.92 1763.17,1125.60 1771.01,1124.36 1778.85,1123.21 1786.69,1122.14 1794.53,1121.14 1802.38,1120.20 1810.22,1119.33 1818.06,1118.51 1825.90,1117.76 1833.74,1117.05 1841.58,1116.39 1849.42,1115.78 1857.26,1115.20 1865.11,1114.67 1872.95,1114.17 1880.79,1113.71 1888.63,1113.28 1896.47,1112.88 1904.31,1112.51 1912.15,1112.16 1920.00,1111.83 1927.84,1111.53 1935.68,1111.25 1943.52,1110.99 1951.36,1110.75 1959.20,1110.52 1967.04,1110.31 1974.89,1110.11 1982.73,1109.93 1990.57,1109.76 1998.41,1109.60 2006.25,1109.45 2014.09,1109.32 2021.93,1109.19 2029.78,1109.07 2037.62,1108.96 2045.46,1108.86 2053.30,1108.76 2061.14,1108.67 2068.98,1108.59 2076.82,1108.51 2084.66,1108.44 2092.51,1108.38 2100.35,1108.31 2108.19,1108.26 2116.03,1108.20 2123.87,1108.15 2131.71,1108.11 2139.55,1108.06 2147.40,1108.02 2155.24,1107.99 2163.08,1107.95 2170.92,1107.92 2178.76,1107.89 2186.60,1107.86 2194.44,1107.83 2202.29,1107.81 2210.13,1107.79 2217.97,1107.77 2225.81,1107.75 2233.65,1107.73 2241.49,1107.71 2249.33,1107.70 2257.17,1107.68 2265.02,1107.67 2272.86,1107.65 2280.70,1107.64 2288.54,1107.63 2296.38,1107.62 2304.22,1107.61 2312.06,1107.60" fill="none" stroke="#fa7c17" stroke-opacity="0.3" stroke-width="4.1" stroke-linecap="round" stroke-linejoin="round"/>
<polyline points="1371.10,1453.90 1378.94,1440.63 1386.78,1427.40 1394.62,1414.28 1402.47,1401.29 1410.31,1388.48 1418.15,1375.90 1425.99,1363.58 1433.83,1351.56 1441.67,1339.87 1449.51,1328.54 1457.36,1317.58 1465.20,1307.02 1473.04,1296.87 1480.88,1287.14 1488.72,1277.85 1496.56,1268.98 1504.40,1260.55 1512.24,1252.55 1520.09,1244.98 1527.93,1237.82 1535.77,1231.06 1543.61,1224.71 1551.45,1218.73 1559.29,1213.13 1567.13,1207.88 1574.98,1202.96 1582.82,1198.37 1590.66,1194.09 1598.50,1190.10 1606.34,1186.38 1614.18,1182.93 1622.02,1179.71 1629.87,1176.73 1637.71,1173.97 1645.55,1171.40 1653.39,1169.03 1661.23,1166.83 1669.07,1164.79 1676.91,1162.91 1684.75,1161.17 1692.60,1159.57 1700.44,1158.08 1708.28,1156.72 1716.12,1155.45 1723.96,1154.29 1731.80,1153.21 1739.64,1152.22 1747.49,1151.31 1755.33,1150.47 1763.17,1149.70 1771.01,1148.98 1778.85,1148.33 1786.69,1147.72 1794.53,1147.17 1802.38,1146.66 1810.22,1146.19 1818.06,1145.75 1825.90,1145.35 1833.74,1144.99 1841.58,1144.65 1849.42,1144.34 1857.26,1144.06 1865.11,1143.79 1872.95,1143.55 1880.79,1143.33 1888.63,1143.13 1896.47,1142.94 1904.31,1142.77 1912.15,1142.61 1920.00,1142.46 1927.84,1142.33 1935.68,1142.21 1943.52,1142.09 1951.36,1141.99 1959.20,1141.90 1967.04,1141.81 1974.89,1141.73 1982.73,1141.65 1990.57,1141.59 1998.41,1141.52 2006.25,1141.47 2014.09,1141.41 2021.93,1141.36 2029.78,1141.32 2037.62,1141.28 2045.46,1141.24 2053.30,1141.21 2061.14,1141.18 2068.98,1141.15 2076.82,1141.12 2084.66,1141.09 2092.51,1141.07 2100.35,1141.05 2108.19,1141.03 2116.03,1141.01 2123.87,1141.00 2131.71,1140.98 2139.55,1140.97 2147.40,1140.96 2155.24,1140.95 2163.08,1140.94 2170.92,1140.93 2178.76,1140.92 2186.60,1140.91 2194.44,1140.90 2202.29,1140.89 2210.13,1140.89 2217.97,1140.88 2225.81,1140.88 2233.65,1140.87 2241.49,1140.87 2249.33,1140.86 2257.17,1140.86 2265.02,1140.86 2272.86,1140.85 2280.70,1140.85 2288.54,1140.85 2296.38,1140.85 2304.22,1140.84 2312.06,1140.84" fill="none" stroke="#fa7c17" stroke-opacity="0.3" stroke-width="4.1" stroke-linecap="round" stroke-linejoin="round"/>
<polyline points="1371.10,1453.90 1378.94,1437.68 1386.78,1421.58 1394.62,1405.70 1402.47,1390.16 1410.31,1375.05 1418.15,1360.46 1425.99,1346.45 1433.83,1333.10 1441.67,1320.43 1449.51,1308.50 1457.36,1297.30 1465.20,1286.85 1473.04,1277.14 1480.88,1268.17 1488.72,1259.89 1496.56,1252.30 1504.40,1245.36 1512.24,1239.02 1520.09,1233.26 1527.93,1228.03 1535.77,1223.30 1543.61,1219.03 1551.45,1215.17 1559.29,1211.71 1567.13,1208.59 1574.98,1205.80 1582.82,1203.29 1590.66,1201.05 1598.50,1199.04 1606.34,1197.25 1614.18,1195.65 1622.02,1194.22 1629.87,1192.95 1637.71,1191.81 1645.55,1190.80 1653.39,1189.90 1661.23,1189.10 1669.07,1188.39 1676.91,1187.76 1684.75,1187.19 1692.60,1186.69 1700.44,1186.25 1708.28,1185.85 1716.12,1185.50 1723.96,1185.19 1731.80,1184.91 1739.64,1184.66 1747.49,1184.45 1755.33,1184.25 1763.17,1184.08 1771.01,1183.93 1778.85,1183.79 1786.69,1183.67 1794.53,1183.56 1802.38,1183.47 1810.22,1183.39 1818.06,1183.31 1825.90,1183.24 1833.74,1183.19 1841.58,1183.13 1849.42,1183.09 1857.26,1183.05 1865.11,1183.01 1872.95,1182.98 1880.79,1182.95 1888.63,1182.92 1896.47,1182.90 1904.31,1182.88 1912.15,1182.86 1920.00,1182.85 1927.84,1182.83 1935.68,1182.82 1943.52,1182.81 1951.36,1182.80 1959.20,1182.79 1967.04,1182.78 1974.89,1182.78 1982.73,1182.77 1990.57,1182.77 1998.41,1182.76 2006.25,1182.76 2014.09,1182.75 2021.93,1182.75 2029.78,1182.75 2037.62,1182.74 2045.46,1182.74 2053.30,1182.74 2061.14,1182.74 2068.98,1182.74 2076.82,1182.73 2084.66,1182.73 2092.51,1182.73 2100.35,1182.73 2108.19,1182.73 2116.03,1182.73 2123.87,1182.73 2131.71,1182.73 2139.55,1182.73 2147.40,1182.73 2155.24,1182.73 2163.08,1182.73 2170.92,1182.73 2178.76,1182.73 2186.60,1182.73 2194.44,1182.73 2202.29,1182.72 2210.13,1182.72 2217.97,1182.72 2225.81,1182.72 2233.65,1182.72 2241.49,1182.72 2249.33,1182.72 2257.17,1182.72 2265.02,1182.72 2272.86,1182.72 2280.70,1182.72 2288.54,1182.72 2296.38,1182.72 2304.22,1182.72 2312.06,1182.72" fill="none" stroke="#fa7c17" stroke-opacity="0.3" stroke-width="4.1" stroke-linecap="round" stroke-linejoin="round"/>
<polyline points="1371.10,1453.90 1378.94,1433.78 1386.78,1413.91 1394.62,1394.50 1402.47,1375.78 1410.31,1357.92 1418.15,1341.06 1425.99,1325.31 1433.83,1310.73 1441.67,1297.36 1449.51,1285.18 1457.36,1274.19 1465.20,1264.32 1473.04,1255.52 1480.88,1247.71 1488.72,1240.82 1496.56,1234.75 1504.40,1229.44 1512.24,1224.80 1520.09,1220.75 1527.93,1217.24 1535.77,1214.19 1543.61,1211.56 1551.45,1209.28 1559.29,1207.31 1567.13,1205.62 1574.98,1204.16 1582.82,1202.91 1590.66,1201.83 1598.50,1200.90 1606.34,1200.11 1614.18,1199.42 1622.02,1198.84 1629.87,1198.34 1637.71,1197.91 1645.55,1197.54 1653.39,1197.22 1661.23,1196.95 1669.07,1196.72 1676.91,1196.52 1684.75,1196.35 1692.60,1196.21 1700.44,1196.08 1708.28,1195.98 1716.12,1195.88 1723.96,1195.81 1731.80,1195.74 1739.64,1195.68 1747.49,1195.63 1755.33,1195.59 1763.17,1195.56 1771.01,1195.53 1778.85,1195.50 1786.69,1195.48 1794.53,1195.46 1802.38,1195.44 1810.22,1195.43 1818.06,1195.41 1825.90,1195.40 1833.74,1195.40 1841.58,1195.39 1849.42,1195.38 1857.26,1195.38 1865.11,1195.37 1872.95,1195.37 1880.79,1195.36 1888.63,1195.36 1896.47,1195.36 1904.31,1195.36 1912.15,1195.35 1920.00,1195.35 1927.84,1195.35 1935.68,1195.35 1943.52,1195.35 1951.36,1195.35 1959.20,1195.35 1967.04,1195.35 1974.89,1195.35 1982.73,1195.35 1990.57,1195.35 1998.41,1195.35 2006.25,1195.35 2014.09,1195.35 2021.93,1195.34 2029.78,1195.34 2037.62,1195.34 2045.46,1195.34 2053.30,1195.34 2061.14,1195.34 2068.98,1195.34 2076.82,1195.34 2084.66,1195.34 2092.51,1195.34 2100.35,1195.34 2108.19,1195.34 2116.03,1195.34 2123.87,1195.34 2131.71,1195.34 2139.55,1195.34 2147.40,1195.34 2155.24,1195.34 2163.08,1195.34 2170.92,1195.34 2178.76,1195.34 2186.60,1195.34 2194.44,1195.34 2202.29,1195.34 2210.13,1195.34 2217.97,1195.34 2225.81,1195.34 2233.65,1195.34 2241.49,1195.34 2249.33,1195.34 2257.17,1195.34 2265.02,1195.34 2272.86,1195.34 2280.70,1195.34 2288.54,1195.34 2296.38,1195.34 2304.22,1195.34 2312.06,1195.34" fill="none" stroke="#fa7c17" stroke-opacity="0.3" stroke-width="4.1" stroke-linecap="round" stroke-linejoin="round"/>
<g fill="#fa7c17" fill-opacity="0.95" stroke="#fa7c17" stroke-opacity="0.95" stroke-width="2.6"><circle cx="1624.30" cy="1212.50" r="9.0"/><circle cx="1628.92" cy="1210.09" r="9.0"/><circle cx="1633.53" cy="1207.68" r="9.0"/><circle cx="1638.15" cy="1205.28" r="9.0"/><circle cx="1642.76" cy="1202.87" r="9.0"/><circle cx="1647.38" cy="1200.46" r="9.0"/><circle cx="1651.99" cy="1198.05" r="9.0"/><circle cx="1656.61" cy="1195.65" r="9.0"/><circle cx="1661.22" cy="1193.24" r="9.0"/><circle cx="1665.84" cy="1190.83" r="9.0"/><circle cx="1670.45" cy="1188.42" r="9.0"/><circle cx="1675.07" cy="1186.02" r="9.0"/><circle cx="1679.68" cy="1183.61" r="9.0"/><circle cx="1684.30" cy="1181.20" r="9.0"/><circle cx="1637.10" cy="1179.30" r="9.0"/><circle cx="1641.68" cy="1177.14" r="9.0"/><circle cx="1646.26" cy="1174.98" r="9.0"/><circle cx="1650.84" cy="1172.82" r="9.0"/><circle cx="1655.42" cy="1170.66" r="9.0"/><circle cx="1660.00" cy="1168.50" r="9.0"/><circle cx="1371.10" cy="1380.00" r="9.0"/><circle cx="1371.10" cy="1384.00" r="9.0"/><circle cx="1371.10" cy="1387.00" r="9.0"/><circle cx="1371.10" cy="1391.00" r="9.0"/><circle cx="1371.10" cy="1394.00" r="9.0"/><circle cx="1371.10" cy="1400.00" r="9.0"/><circle cx="1371.10" cy="1441.00" r="9.0"/><circle cx="1371.10" cy="1445.00" r="9.0"/><circle cx="1371.10" cy="1448.00" r="9.0"/><circle cx="1371.10" cy="1452.00" r="9.0"/><circle cx="1371.10" cy="1455.00" r="9.0"/><circle cx="1624.30" cy="1212.50" r="9.0"/><circle cx="1625.60" cy="1201.00" r="9.0"/><circle cx="1637.10" cy="1207.40" r="9.0"/><circle cx="1646.00" cy="1195.90" r="9.0"/><circle cx="1658.80" cy="1188.30" r="9.0"/><circle cx="1658.80" cy="1183.80" r="9.0"/><circle cx="1671.50" cy="1190.80" r="9.0"/><circle cx="1684.30" cy="1181.20" r="9.0"/><circle cx="1637.10" cy="1179.30" r="9.0"/><circle cx="1646.00" cy="1174.20" r="9.0"/><circle cx="1660.00" cy="1168.50" r="9.0"/><circle cx="1652.00" cy="1192.00" r="9.0"/><circle cx="1677.00" cy="1186.00" r="9.0"/></g>
</g>
<g fill="#262626" font-size="30.7"><text x="1371.10" y="1514.60" text-anchor="middle">0</text><text x="1528.24" y="1514.60" text-anchor="middle" textLength="52.3" lengthAdjust="spacingAndGlyphs">250</text><text x="1685.38" y="1514.60" text-anchor="middle" textLength="52.3" lengthAdjust="spacingAndGlyphs">500</text><text x="1842.52" y="1514.60" text-anchor="middle" textLength="52.3" lengthAdjust="spacingAndGlyphs">750</text><text x="1999.67" y="1514.60" text-anchor="middle" textLength="69.75" lengthAdjust="spacingAndGlyphs">1000</text><text x="2156.81" y="1514.60" text-anchor="middle" textLength="69.75" lengthAdjust="spacingAndGlyphs">1250</text><text x="2313.95" y="1514.60" text-anchor="middle" textLength="69.75" lengthAdjust="spacingAndGlyphs">1500</text><text x="1313.20" y="1464.40" text-anchor="end">0</text><text x="1313.20" y="1383.50" text-anchor="end" textLength="52.3" lengthAdjust="spacingAndGlyphs">500</text><text x="1313.20" y="1302.60" text-anchor="end" textLength="69.75" lengthAdjust="spacingAndGlyphs">1000</text><text x="1313.20" y="1221.70" text-anchor="end" textLength="69.75" lengthAdjust="spacingAndGlyphs">1500</text><text x="1313.20" y="1140.80" text-anchor="end" textLength="69.75" lengthAdjust="spacingAndGlyphs">2000</text><text x="1313.20" y="1059.90" text-anchor="end" textLength="69.75" lengthAdjust="spacingAndGlyphs">2500</text><text x="1313.20" y="979.00" text-anchor="end" textLength="69.75" lengthAdjust="spacingAndGlyphs">3000</text><text x="1313.20" y="898.10" text-anchor="end" textLength="69.75" lengthAdjust="spacingAndGlyphs">3500</text></g>
<text x="1841.00" y="827.20" text-anchor="middle" font-size="30.6" fill="#262626" textLength="343" lengthAdjust="spacingAndGlyphs">channel=x2, geo=geo_b</text>
<text x="1841.00" y="1555.10" text-anchor="middle" font-size="30.4" fill="#262626" textLength="238.5" lengthAdjust="spacingAndGlyphs">Channel Data (X)</text>
<text transform="translate(1227.05,1164.95) rotate(-90)" x="0" y="0" text-anchor="middle" font-size="30.4" fill="#262626" textLength="343" lengthAdjust="spacingAndGlyphs">Channel Contribution (Y)</text>
</g>
</svg></body></html>
